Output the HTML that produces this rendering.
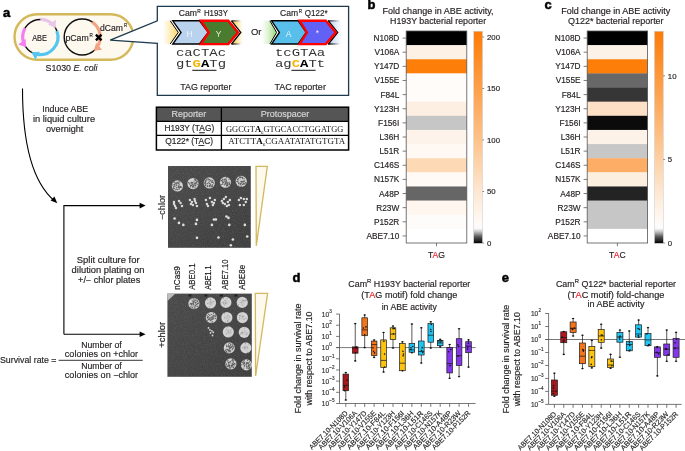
<!DOCTYPE html>
<html><head><meta charset="utf-8"><style>html,body{margin:0;padding:0;background:#fff;overflow:hidden}svg{display:block;will-change:transform}</style></head>
<body><svg width="685" height="451" viewBox="0 0 685 451" font-family="Liberation Sans, sans-serif">
<rect width="685" height="451" fill="#fff"/>
<text x="3.00" y="17.00" font-size="13" fill="#000" font-weight="bold" stroke="#000" stroke-width="0.5">a</text>
<rect x="14.5" y="14.2" width="118.8" height="45.5" rx="22.75" fill="#fdf9ef" stroke="#d3b95b" stroke-width="2.4"/>
<circle cx="40.3" cy="37.0" r="17.6" fill="none" stroke="#111" stroke-width="1.45"/>
<path d="M40.30,19.40 A17.6,17.6 0 0 1 52.53,24.34" fill="none" stroke="#e9c6ea" stroke-width="3.2"/>
<path d="M55.54,28.20 L48.06,24.44 L56.03,19.84 Z" fill="#e9c6ea"/>
<path d="M56.84,30.98 A17.6,17.6 0 0 1 36.64,54.22" fill="none" stroke="#56c5f0" stroke-width="3.2"/>
<path d="M31.50,52.24 L39.86,51.76 L35.26,59.73 Z" fill="#56c5f0"/>
<path d="M23.38,41.85 A17.6,17.6 0 0 1 25.06,28.20" fill="none" stroke="#f57ef2" stroke-width="3.2"/>
<path d="M26.06,47.35 L18.23,44.39 L25.67,38.98 Z" fill="#f57ef2"/>
<text x="39.60" y="40.70" font-size="8.7" fill="#231f20" stroke="#231f20" stroke-width="0.16" text-anchor="middle" textLength="14.80" lengthAdjust="spacingAndGlyphs" >ABE</text>
<circle cx="82.2" cy="37.0" r="18.0" fill="none" stroke="#111" stroke-width="1.45"/>
<path d="M92.27,22.08 A18.0,18.0 0 0 1 97.12,47.07" fill="none" stroke="#f2a585" stroke-width="3.2"/>
<path d="M93.77,50.79 L96.18,42.77 L102.09,49.81 Z" fill="#f2a585"/>
<text x="65.40" y="41.00" font-size="8.7" fill="#231f20" stroke="#231f20" stroke-width="0.16" textLength="23.30" lengthAdjust="spacingAndGlyphs" >pCam</text>
<text x="89.40" y="37.30" font-size="5.8" fill="#231f20" stroke="#231f20" stroke-width="0.16" textLength="3.30" lengthAdjust="spacingAndGlyphs" >R</text>
<text x="100.00" y="30.60" font-size="8.7" fill="#231f20" stroke="#231f20" stroke-width="0.16" textLength="22.90" lengthAdjust="spacingAndGlyphs" >dCam</text>
<text x="123.90" y="27.20" font-size="5.8" fill="#231f20" stroke="#231f20" stroke-width="0.16" textLength="3.10" lengthAdjust="spacingAndGlyphs" >R</text>
<path d="M95.9,34.7 L101.5,40.3 M101.5,34.7 L95.9,40.3" stroke="#000" stroke-width="2.4"/>
<text x="45.50" y="71.00" font-size="8.8" fill="#231f20" stroke="#231f20" stroke-width="0.16" textLength="52.00" lengthAdjust="spacingAndGlyphs" >S1030 <tspan font-style="italic">E. coli</tspan></text>
<path d="M157.3,20.9 L157.3,6.4 L348.6,6.4 L348.6,95.4 L157.3,95.4 L157.3,43.3 L110.2,40.2 Z" fill="#fff" stroke="#1d3a4e" stroke-width="1.3" stroke-linejoin="miter"/>
<path d="M22.5,88.4 C22.5,135 30,180 54.5,200.8" fill="none" stroke="#000" stroke-width="1.1"/>
<path d="M57.3,203.2 L50.6,200.6 L54.4,196.6 Z" fill="#000"/>
<path d="M63.9,334.2 L63.9,205.6 L141,205.6" fill="none" stroke="#000" stroke-width="1.1"/>
<path d="M145.6,205.6 L139.6,202.8 L139.6,208.4 Z" fill="#000"/>
<path d="M63.9,334.2 L141,334.2" fill="none" stroke="#000" stroke-width="1.1"/>
<path d="M145.6,334.2 L139.6,331.4 L139.6,337.0 Z" fill="#000"/>
<text x="42.30" y="111.90" font-size="8.4" fill="#231f20" stroke="#231f20" stroke-width="0.16" textLength="45.80" lengthAdjust="spacingAndGlyphs" >Induce ABE</text>
<text x="32.90" y="122.00" font-size="8.4" fill="#231f20" stroke="#231f20" stroke-width="0.16" textLength="62.20" lengthAdjust="spacingAndGlyphs" >in liquid culture</text>
<text x="46.00" y="131.50" font-size="8.4" fill="#231f20" stroke="#231f20" stroke-width="0.16" textLength="37.40" lengthAdjust="spacingAndGlyphs" >overnight</text>
<text x="76.80" y="262.70" font-size="8.4" fill="#231f20" stroke="#231f20" stroke-width="0.16" textLength="62.80" lengthAdjust="spacingAndGlyphs" >Split culture for</text>
<text x="71.60" y="273.00" font-size="8.4" fill="#231f20" stroke="#231f20" stroke-width="0.16" textLength="72.90" lengthAdjust="spacingAndGlyphs" >dilution plating on</text>
<text x="78.10" y="282.90" font-size="8.4" fill="#231f20" stroke="#231f20" stroke-width="0.16" textLength="62.10" lengthAdjust="spacingAndGlyphs" >+/− chlor plates</text>
<text x="0.00" y="362.70" font-size="8.7" fill="#231f20" stroke="#231f20" stroke-width="0.16" textLength="56.50" lengthAdjust="spacingAndGlyphs" >Survival rate =</text>
<path d="M58.6,360.3 L142.7,360.3" stroke="#000" stroke-width="0.8"/>
<text x="101.50" y="348.40" font-size="8.7" fill="#231f20" stroke="#231f20" stroke-width="0.16" text-anchor="middle" >Number of</text>
<text x="101.50" y="356.60" font-size="8.7" fill="#231f20" stroke="#231f20" stroke-width="0.16" text-anchor="middle" textLength="73.30" lengthAdjust="spacingAndGlyphs" >colonies on +chlor</text>
<text x="101.50" y="369.20" font-size="8.7" fill="#231f20" stroke="#231f20" stroke-width="0.16" text-anchor="middle" >Number of</text>
<text x="101.50" y="378.00" font-size="8.7" fill="#231f20" stroke="#231f20" stroke-width="0.16" text-anchor="middle" textLength="73.30" lengthAdjust="spacingAndGlyphs" >colonies on −chlor</text>
<defs>
<linearGradient id="gl" x1="0" x2="1" y1="0" y2="0"><stop offset="0" stop-color="#ffd35a" stop-opacity="0"/><stop offset="0.35" stop-color="#ffd96e" stop-opacity="0.35"/><stop offset="1" stop-color="#ffd35f"/></linearGradient>
<linearGradient id="gr" x1="0" x2="1" y1="0" y2="0"><stop offset="0" stop-color="#f0c040"/><stop offset="1" stop-color="#ffd35a" stop-opacity="0"/></linearGradient>
<linearGradient id="ggl" x1="0" x2="1" y1="0" y2="0"><stop offset="0" stop-color="#9ad27a" stop-opacity="0"/><stop offset="0.35" stop-color="#a6dc8a" stop-opacity="0.3"/><stop offset="1" stop-color="#96d877"/></linearGradient>
<linearGradient id="gbr" x1="0" x2="1" y1="0" y2="0"><stop offset="0" stop-color="#b6d0ef"/><stop offset="1" stop-color="#c6daf2" stop-opacity="0"/></linearGradient>
<linearGradient id="gbk" x1="0" x2="1" y1="0" y2="0"><stop offset="0" stop-color="#000"/><stop offset="1" stop-color="#000" stop-opacity="0"/></linearGradient>
</defs>
<path d="M163,20.8 L170.2,20.8 L178.3,32.4 L170.2,44.0 L163,44.0 Z" fill="url(#gl)"/>
<path d="M170.2,20.8 L178.3,32.4 L170.2,44.0" fill="none" stroke="#000" stroke-width="1.0"/>
<path d="M231.5,20.8 L243,20.8 L243,44.0 L231.5,44.0 L240.8,32.4 Z" fill="url(#gr)"/>
<path d="M231.5,20.8 L241,20.8 M231.5,44.0 L241,44.0" stroke="url(#gbk)" stroke-width="1.3"/>
<path d="M231.5,20.8 L240.8,32.4 L231.5,44.0" fill="none" stroke="#000" stroke-width="1.3"/>
<path d="M172.80,20.80 L199.60,20.80 L208.20,32.40 L199.60,44.00 L172.80,44.00 L181.00,32.40 Z" fill="#b9d2ed" stroke="#000" stroke-width="1.4" stroke-linejoin="miter"/>
<path d="M201.00,20.70 L228.30,20.70 L238.00,32.40 L228.30,44.10 L201.00,44.10 L208.80,32.40 Z" fill="#4a7c2f" stroke="#f00" stroke-width="2.4" stroke-linejoin="miter"/>
<text x="189.60" y="37.20" font-size="8.5" fill="#eef4fb" text-anchor="middle" >H</text>
<text x="218.60" y="37.20" font-size="8.5" fill="#e6ecd8" text-anchor="middle" >Y</text>
<path d="M262,20.8 L269.9,20.8 L276.6,32.4 L269.9,44.0 L262,44.0 Z" fill="url(#ggl)"/>
<path d="M269.9,20.8 L276.6,32.4 L269.9,44.0" fill="none" stroke="#000" stroke-width="1.0"/>
<path d="M328.4,20.8 L342,20.8 L342,44.0 L328.4,44.0 L337.7,32.4 Z" fill="url(#gbr)"/>
<path d="M328,20.8 L340,20.8 M328,44.0 L340,44.0" stroke="url(#gbk)" stroke-width="1.3"/>
<path d="M328.4,20.8 L337.7,32.4 L328.4,44.0" fill="none" stroke="#000" stroke-width="1.3"/>
<path d="M271.60,20.80 L298.30,20.80 L306.20,32.40 L298.30,44.00 L271.60,44.00 L279.40,32.40 Z" fill="#58bfeb" stroke="#000" stroke-width="1.4" stroke-linejoin="miter"/>
<path d="M299.60,20.70 L325.80,20.70 L335.80,32.40 L325.80,44.10 L299.60,44.10 L306.80,32.40 Z" fill="#6161f5" stroke="#f00" stroke-width="2.4" stroke-linejoin="miter"/>
<text x="288.50" y="37.20" font-size="8.5" fill="#e0f2fb" text-anchor="middle" >A</text>
<text x="317.50" y="35.60" font-size="8.5" fill="#e8e8ff" text-anchor="middle" >*</text>
<text x="178.70" y="16.20" font-size="8.4" fill="#231f20" stroke="#231f20" stroke-width="0.16" textLength="18.20" lengthAdjust="spacingAndGlyphs" >Cam</text>
<text x="197.30" y="12.70" font-size="5.8" fill="#231f20" stroke="#231f20" stroke-width="0.16" textLength="3.50" lengthAdjust="spacingAndGlyphs" >R</text>
<text x="203.90" y="16.20" font-size="8.4" fill="#231f20" stroke="#231f20" stroke-width="0.16" textLength="24.10" lengthAdjust="spacingAndGlyphs" >H193Y</text>
<text x="280.10" y="16.20" font-size="8.4" fill="#231f20" stroke="#231f20" stroke-width="0.16" textLength="18.10" lengthAdjust="spacingAndGlyphs" >Cam</text>
<text x="298.80" y="12.70" font-size="5.8" fill="#231f20" stroke="#231f20" stroke-width="0.16" textLength="3.30" lengthAdjust="spacingAndGlyphs" >R</text>
<text x="304.80" y="16.20" font-size="8.4" fill="#231f20" stroke="#231f20" stroke-width="0.16" textLength="22.70" lengthAdjust="spacingAndGlyphs" >Q122*</text>
<text x="251.00" y="35.20" font-size="8.5" fill="#231f20" stroke="#231f20" stroke-width="0.16" textLength="10.50" lengthAdjust="spacingAndGlyphs" >Or</text>
<text x="175.9" y="56.2" font-family="Liberation Mono" font-size="10.4" fill="#333" textLength="50.2" lengthAdjust="spacingAndGlyphs">caCTAc</text>
<text x="175.9" y="66.7" font-family="Liberation Mono" font-size="10.4" fill="#333" textLength="50.2" lengthAdjust="spacingAndGlyphs">gt<tspan fill="#f5b400" font-weight="bold">G</tspan><tspan font-weight="bold" fill="#000">A</tspan>Tg</text>
<path d="M192.3,70.3 L216.5,70.3" stroke="#111" stroke-width="1"/>
<text x="275.0" y="56.2" font-family="Liberation Mono" font-size="10.4" fill="#333" textLength="50.2" lengthAdjust="spacingAndGlyphs">tcGTAa</text>
<text x="275.0" y="66.7" font-family="Liberation Mono" font-size="10.4" fill="#333" textLength="50.2" lengthAdjust="spacingAndGlyphs">ag<tspan fill="#f5b400" font-weight="bold">C</tspan><tspan font-weight="bold" fill="#000">A</tspan>Tt</text>
<path d="M291.4,70.3 L315.6,70.3" stroke="#111" stroke-width="1"/>
<text x="180.20" y="90.00" font-size="8.5" fill="#231f20" stroke="#231f20" stroke-width="0.16" textLength="51.30" lengthAdjust="spacingAndGlyphs" >TAG reporter</text>
<text x="274.40" y="90.00" font-size="8.5" fill="#231f20" stroke="#231f20" stroke-width="0.16" textLength="51.50" lengthAdjust="spacingAndGlyphs" >TAC reporter</text>
<rect x="156.4" y="107.2" width="192.2" height="14.1" fill="#555"/>
<rect x="156.4" y="107.2" width="192.2" height="42.8" fill="none" stroke="#000" stroke-width="1.5"/>
<path d="M156.4,121.3 L348.6,121.3 M156.4,135.4 L348.6,135.4 M221.4,107.2 L221.4,150" stroke="#000" stroke-width="1.3"/>
<text x="188.90" y="117.40" font-size="8.6" fill="#d8d8d8" stroke="#d8d8d8" stroke-width="0.16" text-anchor="middle" textLength="34.80" lengthAdjust="spacingAndGlyphs" >Reporter</text>
<text x="285.00" y="117.40" font-size="8.6" fill="#d8d8d8" stroke="#d8d8d8" stroke-width="0.16" text-anchor="middle" textLength="48.40" lengthAdjust="spacingAndGlyphs" >Protospacer</text>
<text x="164.40" y="131.30" font-size="8.4" fill="#231f20" stroke="#231f20" stroke-width="0.16" textLength="49.80" lengthAdjust="spacingAndGlyphs" >H193Y (T<tspan text-decoration="underline">A</tspan>G)</text>
<text x="165.20" y="144.10" font-size="8.4" fill="#231f20" stroke="#231f20" stroke-width="0.16" textLength="47.90" lengthAdjust="spacingAndGlyphs" >Q122* (T<tspan text-decoration="underline">A</tspan>C)</text>
<text x="226" y="131.6" font-family="Liberation Serif" font-size="8.6" fill="#222" textLength="117.3" lengthAdjust="spacingAndGlyphs">GGCGT<tspan font-weight="bold" fill="#000">A</tspan><tspan font-size="5" dy="2">6</tspan><tspan dy="-2">GTGCACCTGGATGG</tspan></text>
<text x="228.3" y="144.4" font-family="Liberation Serif" font-size="8.6" fill="#222" textLength="116.9" lengthAdjust="spacingAndGlyphs">ATCTT<tspan font-weight="bold" fill="#000">A</tspan><tspan font-size="5" dy="2">6</tspan><tspan dy="-2">CGAATATATGTGTA</tspan></text>
<defs>
<filter id="nz" x="0" y="0" width="100%" height="100%"><feTurbulence type="fractalNoise" baseFrequency="0.9" numOctaves="2" seed="4"/><feColorMatrix type="matrix" values="0 0 0 0 1  0 0 0 0 1  0 0 0 0 1  1.6 0 0 0 -0.7"/></filter>
<filter id="spkL" x="-20%" y="-20%" width="140%" height="140%"><feTurbulence type="fractalNoise" baseFrequency="1.0" numOctaves="1" seed="9"/><feColorMatrix type="matrix" values="0 0 0 0 0.3  0 0 0 0 0.3  0 0 0 0 0.3  3 0 0 0 -1.75"/><feComposite in2="SourceGraphic" operator="in"/></filter>
<filter id="spkH" x="-20%" y="-20%" width="140%" height="140%"><feTurbulence type="fractalNoise" baseFrequency="1.0" numOctaves="1" seed="5"/><feColorMatrix type="matrix" values="0 0 0 0 0.3  0 0 0 0 0.3  0 0 0 0 0.3  3 0 0 0 -1.3"/><feComposite in2="SourceGraphic" operator="in"/></filter>
<filter id="bl" x="-5%" y="-5%" width="110%" height="110%"><feGaussianBlur stdDeviation="0.35"/></filter>
<linearGradient id="pg" x1="0" y1="0" x2="1" y2="1"><stop offset="0" stop-color="#4b4b4b"/><stop offset="1" stop-color="#3f3f3f"/></linearGradient>
<radialGradient id="col" cx="0.5" cy="0.5" r="0.5"><stop offset="0" stop-color="#c2c2c2"/><stop offset="0.8" stop-color="#d6d6d6"/><stop offset="1" stop-color="#c6c6c6"/></radialGradient>
</defs>
<g filter="url(#bl)">
<rect x="168.0" y="166.0" width="82.80" height="81.80" fill="url(#pg)"/>
<rect x="168.0" y="166.0" width="82.80" height="81.80" fill="#fff" filter="url(#nz)" opacity="0.13"/>
<circle cx="177.38" cy="185.95" r="5.6" fill="url(#col)"/>
<path d="M176.54,187.62h0.01M176.62,184.90h0.01M174.55,185.31h0.01M180.57,187.17h0.01M180.45,186.69h0.01M178.68,186.57h0.01M173.49,187.95h0.01M178.99,187.55h0.01M174.12,182.60h0.01M174.70,184.55h0.01M178.40,185.80h0.01M179.00,183.95h0.01M178.39,187.25h0.01M175.82,190.00h0.01M178.92,189.27h0.01M175.49,183.71h0.01M176.23,185.60h0.01M179.40,186.75h0.01M176.05,183.11h0.01M175.93,189.33h0.01M174.86,186.72h0.01M178.48,182.10h0.01M177.51,189.59h0.01M172.94,185.25h0.01M177.04,183.40h0.01M179.01,185.75h0.01M173.74,188.01h0.01M179.31,188.69h0.01M181.18,186.91h0.01M177.71,182.34h0.01M179.28,184.06h0.01M176.13,182.47h0.01M174.53,184.39h0.01M179.87,182.01h0.01M173.52,186.59h0.01M181.11,187.45h0.01M174.49,182.14h0.01M178.49,183.65h0.01M174.42,188.54h0.01M180.60,186.41h0.01M178.18,187.38h0.01M181.30,187.48h0.01M179.02,187.69h0.01M173.91,188.79h0.01M180.19,187.51h0.01M173.08,184.58h0.01M179.26,181.91h0.01M176.83,189.00h0.01" stroke="#555" stroke-width="1.2" stroke-linecap="round" opacity="0.9"/>
<circle cx="192.94" cy="183.56" r="5.6" fill="url(#col)"/>
<path d="M190.09,187.06h0.01M194.74,183.07h0.01M193.98,185.63h0.01M193.29,186.88h0.01M190.86,182.25h0.01M196.05,183.64h0.01M190.48,186.20h0.01M196.76,182.40h0.01M189.19,183.19h0.01M192.45,182.56h0.01M196.37,181.06h0.01M195.97,180.52h0.01M190.58,185.46h0.01M195.99,185.87h0.01M194.10,184.03h0.01M193.44,185.43h0.01M192.35,184.49h0.01M194.81,183.56h0.01M195.27,185.28h0.01M197.37,184.27h0.01M191.55,182.34h0.01M192.90,186.39h0.01M191.84,184.83h0.01M195.73,179.67h0.01M189.68,184.27h0.01M194.26,184.35h0.01M191.59,185.62h0.01M193.86,181.86h0.01M197.58,184.24h0.01M191.14,183.23h0.01M192.18,183.35h0.01M188.27,182.73h0.01M195.56,180.53h0.01M192.74,186.46h0.01M195.04,187.22h0.01M188.80,182.70h0.01M191.86,185.55h0.01M194.74,179.15h0.01M195.53,180.11h0.01M194.66,179.80h0.01M193.45,186.98h0.01M192.44,184.20h0.01M195.44,184.00h0.01M192.71,187.55h0.01M196.03,182.69h0.01M197.35,181.72h0.01M195.73,182.75h0.01M193.37,185.81h0.01" stroke="#555" stroke-width="1.2" stroke-linecap="round" opacity="0.9"/>
<circle cx="209.31" cy="182.96" r="5.6" fill="url(#col)"/>
<path d="M210.02,185.01h0.01M206.07,179.76h0.01M211.10,180.16h0.01M206.85,179.44h0.01M212.67,184.94h0.01M212.89,180.68h0.01M209.31,179.64h0.01M211.16,186.80h0.01M207.18,186.69h0.01M212.28,182.42h0.01M205.51,185.67h0.01M209.00,181.01h0.01M210.61,184.30h0.01M212.87,180.53h0.01M211.96,186.43h0.01M213.17,182.48h0.01M207.21,185.83h0.01M209.70,183.38h0.01M213.12,182.26h0.01M204.74,182.19h0.01M205.21,184.77h0.01M210.33,181.00h0.01M209.28,185.56h0.01M209.53,186.63h0.01M209.13,186.06h0.01M212.42,186.32h0.01M207.34,185.54h0.01M205.36,180.68h0.01M205.27,185.16h0.01M205.81,182.92h0.01M208.66,182.86h0.01M207.40,183.71h0.01M213.60,183.07h0.01M210.86,185.88h0.01M208.76,179.42h0.01M207.72,186.03h0.01M205.32,181.51h0.01M212.13,185.18h0.01M209.34,185.49h0.01M209.79,179.57h0.01M205.44,181.38h0.01M212.04,181.29h0.01M206.72,180.74h0.01M205.33,182.66h0.01M205.96,183.99h0.01M204.70,183.60h0.01M207.90,178.69h0.01M211.60,182.09h0.01" stroke="#555" stroke-width="1.2" stroke-linecap="round" opacity="0.9"/>
<circle cx="225.48" cy="182.36" r="5.6" fill="url(#col)"/>
<path d="M221.14,180.66h0.01M226.43,180.86h0.01M227.78,184.57h0.01M227.59,183.40h0.01M229.00,184.10h0.01M226.44,177.92h0.01M227.77,185.71h0.01M224.51,180.83h0.01M228.98,179.19h0.01M226.37,186.96h0.01M222.79,184.36h0.01M229.85,182.08h0.01M227.14,185.04h0.01M222.70,182.09h0.01M226.38,184.91h0.01M225.36,181.70h0.01M222.48,181.30h0.01M228.22,182.67h0.01M223.03,179.95h0.01M229.86,184.23h0.01M226.61,177.77h0.01M227.44,183.87h0.01M229.59,183.40h0.01M225.26,184.07h0.01M221.43,184.51h0.01M226.50,180.15h0.01M228.20,186.07h0.01M221.85,180.64h0.01M226.45,182.97h0.01M224.29,179.46h0.01M229.66,184.40h0.01M222.63,179.15h0.01M229.32,184.59h0.01M229.55,184.17h0.01M222.80,183.16h0.01M221.11,180.85h0.01M225.29,184.08h0.01M223.17,181.97h0.01M226.97,183.59h0.01M227.53,183.03h0.01M224.47,184.81h0.01M225.63,179.78h0.01M223.45,182.36h0.01M225.11,182.89h0.01M225.48,182.96h0.01M225.10,178.82h0.01M226.71,185.43h0.01M226.91,181.74h0.01" stroke="#555" stroke-width="1.2" stroke-linecap="round" opacity="0.9"/>
<circle cx="241.25" cy="181.36" r="5.6" fill="url(#col)"/>
<path d="M242.57,178.50h0.01M236.86,181.50h0.01M238.57,183.49h0.01M239.43,176.97h0.01M238.84,185.02h0.01M240.22,177.68h0.01M238.91,182.96h0.01M242.88,181.94h0.01M244.98,183.14h0.01M241.18,183.30h0.01M245.04,183.59h0.01M243.95,178.51h0.01M240.78,183.68h0.01M240.38,184.50h0.01M243.01,184.04h0.01M240.86,186.05h0.01M244.75,180.75h0.01M241.41,186.08h0.01M240.20,184.03h0.01M244.21,181.38h0.01M237.89,181.90h0.01M242.28,184.61h0.01M243.71,181.44h0.01M243.81,182.98h0.01M241.94,181.55h0.01M240.47,183.55h0.01M238.25,179.58h0.01M241.26,177.47h0.01M240.29,176.97h0.01M239.14,183.12h0.01M243.09,181.19h0.01M240.62,177.56h0.01M245.47,182.56h0.01M244.21,178.98h0.01M240.81,177.06h0.01M243.47,184.03h0.01M236.86,181.24h0.01M242.72,177.25h0.01M237.33,179.08h0.01M239.61,177.72h0.01M241.35,182.20h0.01M243.18,183.50h0.01M244.72,184.05h0.01M237.70,180.00h0.01M238.47,178.54h0.01M240.97,181.38h0.01M242.47,177.40h0.01M237.74,181.30h0.01" stroke="#555" stroke-width="1.2" stroke-linecap="round" opacity="0.9"/>
<circle cx="173.98" cy="201.92" r="1.25" fill="#d8d8d8"/>
<circle cx="178.97" cy="200.92" r="1.25" fill="#d8d8d8"/>
<circle cx="180.57" cy="202.92" r="1.25" fill="#d8d8d8"/>
<circle cx="174.98" cy="205.91" r="1.25" fill="#d8d8d8"/>
<circle cx="175.98" cy="207.91" r="1.25" fill="#d8d8d8"/>
<circle cx="181.97" cy="205.91" r="1.25" fill="#d8d8d8"/>
<circle cx="173.98" cy="203.92" r="1.25" fill="#d8d8d8"/>
<circle cx="189.95" cy="199.93" r="1.25" fill="#d8d8d8"/>
<circle cx="191.95" cy="201.92" r="1.25" fill="#d8d8d8"/>
<circle cx="194.54" cy="198.93" r="1.25" fill="#d8d8d8"/>
<circle cx="195.94" cy="202.92" r="1.25" fill="#d8d8d8"/>
<circle cx="196.94" cy="205.91" r="1.25" fill="#d8d8d8"/>
<circle cx="192.94" cy="204.92" r="1.25" fill="#d8d8d8"/>
<circle cx="190.95" cy="203.92" r="1.25" fill="#d8d8d8"/>
<circle cx="194.94" cy="200.92" r="1.25" fill="#d8d8d8"/>
<circle cx="205.92" cy="199.93" r="1.25" fill="#d8d8d8"/>
<circle cx="206.92" cy="203.92" r="1.25" fill="#d8d8d8"/>
<circle cx="209.91" cy="197.93" r="1.25" fill="#d8d8d8"/>
<circle cx="211.91" cy="201.92" r="1.25" fill="#d8d8d8"/>
<circle cx="212.90" cy="204.92" r="1.25" fill="#d8d8d8"/>
<circle cx="214.90" cy="199.93" r="1.25" fill="#d8d8d8"/>
<circle cx="207.91" cy="205.91" r="1.25" fill="#d8d8d8"/>
<circle cx="213.90" cy="202.92" r="1.25" fill="#d8d8d8"/>
<circle cx="221.89" cy="200.92" r="1.25" fill="#d8d8d8"/>
<circle cx="223.88" cy="198.93" r="1.25" fill="#d8d8d8"/>
<circle cx="225.88" cy="196.93" r="1.25" fill="#d8d8d8"/>
<circle cx="227.87" cy="201.92" r="1.25" fill="#d8d8d8"/>
<circle cx="229.87" cy="199.93" r="1.25" fill="#d8d8d8"/>
<circle cx="228.87" cy="204.92" r="1.25" fill="#d8d8d8"/>
<circle cx="224.88" cy="203.92" r="1.25" fill="#d8d8d8"/>
<circle cx="222.88" cy="202.92" r="1.25" fill="#d8d8d8"/>
<circle cx="226.88" cy="205.91" r="1.25" fill="#d8d8d8"/>
<circle cx="238.85" cy="199.93" r="1.25" fill="#d8d8d8"/>
<circle cx="240.85" cy="197.93" r="1.25" fill="#d8d8d8"/>
<circle cx="243.84" cy="198.93" r="1.25" fill="#d8d8d8"/>
<circle cx="245.84" cy="201.92" r="1.25" fill="#d8d8d8"/>
<circle cx="239.85" cy="204.92" r="1.25" fill="#d8d8d8"/>
<circle cx="243.84" cy="204.92" r="1.25" fill="#d8d8d8"/>
<circle cx="246.84" cy="198.93" r="1.25" fill="#d8d8d8"/>
<circle cx="174.58" cy="218.49" r="1.3" fill="#e0e0e0"/>
<circle cx="178.97" cy="222.88" r="1.3" fill="#e0e0e0"/>
<circle cx="183.36" cy="224.88" r="1.3" fill="#e0e0e0"/>
<circle cx="196.94" cy="219.89" r="1.3" fill="#e0e0e0"/>
<circle cx="195.94" cy="223.88" r="1.3" fill="#e0e0e0"/>
<circle cx="213.90" cy="219.49" r="1.3" fill="#e0e0e0"/>
<circle cx="215.90" cy="219.49" r="1.3" fill="#e0e0e0"/>
<circle cx="211.91" cy="224.88" r="1.3" fill="#e0e0e0"/>
<circle cx="226.48" cy="216.49" r="1.3" fill="#e0e0e0"/>
<circle cx="228.47" cy="217.89" r="1.3" fill="#e0e0e0"/>
<circle cx="229.27" cy="224.88" r="1.3" fill="#e0e0e0"/>
<circle cx="244.84" cy="224.88" r="1.3" fill="#e0e0e0"/>
<circle cx="196.94" cy="237.85" r="1.3" fill="#e0e0e0"/>
<circle cx="218.49" cy="237.45" r="1.3" fill="#e0e0e0"/>
<circle cx="232.86" cy="239.45" r="1.3" fill="#e0e0e0"/>
<circle cx="230.87" cy="245.24" r="1.3" fill="#e0e0e0"/>
<circle cx="247.24" cy="236.45" r="1.3" fill="#e0e0e0"/>
</g>
<path d="M256.0,166.4 L267.3,166.4 L256.3,245.8 Z" fill="#fdf9ef" stroke="#d3b95b" stroke-width="1.3" stroke-linejoin="miter"/>
<text x="164.60" y="207.50" font-size="8.6" fill="#231f20" stroke="#231f20" stroke-width="0.1" text-anchor="middle" textLength="25.00" lengthAdjust="spacingAndGlyphs" transform="rotate(-90 164.60 207.50)" >−chlor</text>
<g filter="url(#bl)">
<rect x="167.4" y="293.6" width="84.40" height="83.20" fill="url(#pg)"/>
<rect x="167.4" y="293.6" width="84.40" height="83.20" fill="#fff" filter="url(#nz)" opacity="0.13"/>
<path d="M167.4,293.6 L175.5,293.6 L167.4,301 Z" fill="#bdbdbd"/>
<circle cx="193.94" cy="303.57" r="5.6" fill="url(#col)"/>
<path d="M193.28,302.53h0.01M193.74,301.17h0.01M196.15,304.69h0.01M193.66,301.42h0.01M193.64,298.84h0.01M190.98,303.69h0.01M190.01,304.10h0.01M194.34,299.82h0.01M193.11,302.53h0.01M195.40,305.51h0.01M193.83,300.93h0.01M193.45,303.35h0.01M196.25,304.50h0.01M192.06,300.05h0.01M192.78,301.26h0.01M190.69,303.23h0.01M192.33,303.92h0.01M195.62,302.25h0.01M198.54,302.94h0.01M197.17,303.93h0.01M195.95,299.30h0.01M191.58,304.35h0.01M195.11,308.09h0.01M194.84,307.12h0.01M196.13,306.27h0.01M195.61,303.06h0.01M195.40,300.48h0.01M196.99,300.95h0.01M194.47,308.09h0.01M193.19,303.64h0.01M197.31,303.65h0.01M191.43,304.38h0.01M195.73,305.75h0.01M192.17,307.60h0.01M198.10,303.62h0.01M194.83,302.16h0.01M197.57,301.76h0.01M196.05,302.07h0.01M191.85,305.74h0.01M197.63,303.54h0.01M191.93,305.98h0.01M193.78,304.61h0.01M197.46,306.19h0.01M192.91,308.10h0.01M193.95,306.05h0.01M191.86,303.43h0.01M190.66,306.93h0.01M197.17,300.70h0.01" stroke="#555" stroke-width="1.2" stroke-linecap="round" opacity="0.9"/>
<circle cx="210.51" cy="302.97" r="5.6" fill="url(#col)"/>
<path d="M207.39,299.61h0.01M213.82,301.68h0.01M210.31,301.93h0.01M210.15,299.77h0.01M210.57,299.12h0.01M210.27,304.01h0.01M212.04,302.21h0.01M207.74,303.46h0.01M209.29,306.92h0.01" stroke="#6a6a6a" stroke-width="1.0" stroke-linecap="round" opacity="0.6"/>
<circle cx="211.31" cy="317.54" r="5.6" fill="url(#col)"/>
<path d="M213.73,317.18h0.01M209.84,315.36h0.01M208.49,316.48h0.01M212.27,319.22h0.01M212.50,321.95h0.01M209.06,317.59h0.01M215.29,314.88h0.01M209.60,318.10h0.01M211.82,318.90h0.01M210.52,318.76h0.01M211.47,319.98h0.01M207.21,315.63h0.01M211.30,314.46h0.01M208.33,319.34h0.01M209.31,319.50h0.01M213.65,318.51h0.01M212.98,317.20h0.01M207.50,317.46h0.01M212.76,315.85h0.01M210.99,319.92h0.01M208.72,319.43h0.01M215.55,316.28h0.01M211.80,317.04h0.01M215.27,318.36h0.01M213.93,315.53h0.01M211.25,317.51h0.01M207.72,320.46h0.01M213.34,313.60h0.01M213.66,317.13h0.01M212.77,318.74h0.01M207.38,316.99h0.01M215.11,316.08h0.01M208.78,314.19h0.01M207.87,318.49h0.01M215.42,318.59h0.01M211.81,322.12h0.01M209.69,315.45h0.01M212.98,319.28h0.01M208.68,314.51h0.01M212.28,318.37h0.01M207.69,316.98h0.01M209.58,319.01h0.01M210.91,317.25h0.01M210.27,320.63h0.01M215.03,316.56h0.01M213.77,315.34h0.01M211.54,319.92h0.01M215.21,316.56h0.01" stroke="#555" stroke-width="1.2" stroke-linecap="round" opacity="0.9"/>
<circle cx="225.88" cy="302.38" r="5.6" fill="url(#col)"/>
<path d="M225.63,303.04h0.01M221.94,302.42h0.01M223.74,303.55h0.01M223.59,298.37h0.01M226.01,303.25h0.01M224.24,305.02h0.01M225.00,300.43h0.01M227.08,298.43h0.01M223.70,302.31h0.01" stroke="#6a6a6a" stroke-width="1.0" stroke-linecap="round" opacity="0.6"/>
<circle cx="226.88" cy="317.54" r="5.6" fill="url(#col)"/>
<path d="M229.51,317.04h0.01M227.86,315.46h0.01M227.62,321.66h0.01M225.57,322.04h0.01M224.80,317.60h0.01M227.39,320.60h0.01M224.50,313.52h0.01M228.70,319.94h0.01M227.97,322.15h0.01" stroke="#6a6a6a" stroke-width="1.0" stroke-linecap="round" opacity="0.6"/>
<circle cx="228.27" cy="331.92" r="5.6" fill="url(#col)"/>
<path d="M228.96,332.77h0.01M231.07,333.03h0.01M231.89,329.22h0.01M227.75,327.15h0.01M230.78,330.77h0.01M230.10,336.18h0.01M228.25,331.06h0.01M226.76,329.38h0.01M226.33,333.88h0.01" stroke="#6a6a6a" stroke-width="1.0" stroke-linecap="round" opacity="0.6"/>
<circle cx="229.27" cy="347.88" r="5.6" fill="url(#col)"/>
<path d="M229.40,348.11h0.01M228.74,350.68h0.01M230.89,347.42h0.01M231.40,347.40h0.01M226.57,351.29h0.01M230.65,345.05h0.01M232.42,348.89h0.01M226.06,351.19h0.01M230.29,350.60h0.01M229.94,347.38h0.01M225.61,350.18h0.01M229.37,346.92h0.01M230.44,348.15h0.01M231.40,346.71h0.01M229.19,343.33h0.01M227.94,350.01h0.01M232.91,346.89h0.01M228.96,351.94h0.01M228.25,350.19h0.01M233.44,347.98h0.01M232.58,345.97h0.01M229.97,347.62h0.01M229.61,351.18h0.01M233.79,346.63h0.01M227.45,349.46h0.01M226.22,349.32h0.01M231.12,346.99h0.01M230.61,343.98h0.01M231.13,344.10h0.01M227.12,346.17h0.01M228.05,350.50h0.01M229.54,346.56h0.01M230.63,351.82h0.01M229.29,349.11h0.01M232.76,348.64h0.01M227.09,352.11h0.01M232.82,344.69h0.01M229.14,349.27h0.01M232.06,349.81h0.01M228.47,344.78h0.01M229.58,350.97h0.01M226.40,345.18h0.01M229.21,343.47h0.01M228.42,346.45h0.01M230.68,345.70h0.01M226.59,346.69h0.01M229.11,345.75h0.01M229.31,350.26h0.01" stroke="#555" stroke-width="1.2" stroke-linecap="round" opacity="0.9"/>
<circle cx="230.87" cy="363.85" r="5.6" fill="url(#col)"/>
<path d="M233.44,367.56h0.01M228.45,362.56h0.01M227.07,366.76h0.01M228.56,363.75h0.01M232.26,360.23h0.01M232.40,363.76h0.01M226.58,364.54h0.01M233.34,359.99h0.01M233.39,364.50h0.01M232.40,365.28h0.01M234.48,363.23h0.01M233.52,362.61h0.01M233.01,361.45h0.01M230.60,368.08h0.01M232.34,363.33h0.01M227.76,361.71h0.01M231.46,366.71h0.01M232.24,365.53h0.01M230.75,367.57h0.01M229.61,362.09h0.01M233.61,364.05h0.01M229.97,361.99h0.01M230.04,365.85h0.01M231.87,360.44h0.01M232.28,364.44h0.01M228.05,366.03h0.01M229.94,362.74h0.01M232.93,367.28h0.01M228.71,365.22h0.01M229.21,368.24h0.01M229.49,367.19h0.01M228.94,366.27h0.01M234.02,360.24h0.01M229.47,365.46h0.01M230.57,361.71h0.01M235.42,364.02h0.01M227.01,365.86h0.01M227.12,366.36h0.01M228.99,364.32h0.01M234.42,364.18h0.01M227.96,360.31h0.01M234.08,365.86h0.01M228.52,366.33h0.01M232.42,365.88h0.01M226.29,363.24h0.01M233.47,365.98h0.01M232.46,359.41h0.01M231.42,365.47h0.01" stroke="#555" stroke-width="1.2" stroke-linecap="round" opacity="0.9"/>
<circle cx="242.25" cy="302.38" r="5.6" fill="url(#col)"/>
<path d="M246.69,300.71h0.01M241.14,302.50h0.01M244.92,301.04h0.01M245.36,300.23h0.01M243.11,300.66h0.01M242.75,300.17h0.01M238.60,304.87h0.01M243.23,300.57h0.01M242.85,305.35h0.01" stroke="#6a6a6a" stroke-width="1.0" stroke-linecap="round" opacity="0.6"/>
<circle cx="242.45" cy="317.54" r="5.6" fill="url(#col)"/>
<path d="M239.49,317.21h0.01M244.15,319.21h0.01M241.73,313.05h0.01M245.93,318.46h0.01M242.49,316.61h0.01M243.31,316.14h0.01M239.56,315.46h0.01M240.59,315.64h0.01M239.23,319.31h0.01" stroke="#6a6a6a" stroke-width="1.0" stroke-linecap="round" opacity="0.6"/>
<circle cx="244.24" cy="332.32" r="5.6" fill="url(#col)"/>
<path d="M240.76,334.07h0.01M241.24,333.36h0.01M247.98,332.87h0.01M241.92,332.47h0.01M244.60,328.09h0.01M242.28,332.84h0.01M242.69,332.58h0.01M246.42,334.59h0.01M246.92,334.05h0.01" stroke="#6a6a6a" stroke-width="1.0" stroke-linecap="round" opacity="0.6"/>
<circle cx="245.84" cy="347.88" r="5.6" fill="url(#col)"/>
<path d="M244.87,347.82h0.01M244.94,346.84h0.01M245.40,343.67h0.01M244.72,347.80h0.01M242.89,347.81h0.01M247.53,347.35h0.01M248.82,344.14h0.01M245.35,343.58h0.01M247.49,352.35h0.01" stroke="#6a6a6a" stroke-width="1.0" stroke-linecap="round" opacity="0.6"/>
<circle cx="246.44" cy="364.85" r="5.6" fill="url(#col)"/>
<path d="M241.75,365.09h0.01M248.12,363.87h0.01M247.54,360.35h0.01M249.04,365.99h0.01M246.51,362.94h0.01M248.44,363.33h0.01M247.17,363.18h0.01M241.83,364.79h0.01M247.07,367.23h0.01M243.73,364.75h0.01M248.43,365.32h0.01M248.90,368.79h0.01M244.49,360.74h0.01M248.52,368.56h0.01M249.06,367.16h0.01M244.55,362.68h0.01M248.93,362.29h0.01M242.49,362.68h0.01M250.22,367.77h0.01M244.37,362.66h0.01M247.17,362.49h0.01M250.08,364.63h0.01M243.76,368.08h0.01M244.55,365.57h0.01M246.39,363.80h0.01M247.46,362.66h0.01M243.38,361.20h0.01M243.08,362.84h0.01M246.36,365.04h0.01M248.25,365.24h0.01M244.08,362.75h0.01M241.91,364.49h0.01M247.98,366.54h0.01M246.03,364.26h0.01M249.30,364.90h0.01M248.69,366.63h0.01M247.03,368.47h0.01M244.60,363.70h0.01M244.08,362.53h0.01M249.51,368.33h0.01M246.51,366.70h0.01M249.60,367.02h0.01M249.37,361.78h0.01M244.42,366.28h0.01M250.28,365.13h0.01M243.81,363.77h0.01M244.49,362.32h0.01M250.23,363.27h0.01" stroke="#555" stroke-width="1.2" stroke-linecap="round" opacity="0.9"/>
<circle cx="208.51" cy="327.92" r="0.9" fill="#d8d8d8"/>
<circle cx="209.91" cy="329.92" r="0.9" fill="#d8d8d8"/>
<circle cx="211.91" cy="330.92" r="0.9" fill="#d8d8d8"/>
<circle cx="213.30" cy="332.32" r="0.9" fill="#d8d8d8"/>
<circle cx="212.50" cy="335.51" r="0.9" fill="#d8d8d8"/>
<circle cx="210.51" cy="332.91" r="0.9" fill="#d8d8d8"/>
<rect x="188.45" y="294.39" width="3" height="2.2" fill="#222"/>
<rect x="204.42" y="294.39" width="3" height="2.2" fill="#222"/>
<rect x="219.79" y="294.39" width="3" height="2.2" fill="#222"/>
<rect x="234.36" y="294.39" width="3" height="2.2" fill="#222"/>
</g>
<path d="M255.3,293.4 L267.6,293.4 L255.6,376.0 Z" fill="#fdf9ef" stroke="#d3b95b" stroke-width="1.3" stroke-linejoin="miter"/>
<text x="164.60" y="334.80" font-size="8.6" fill="#231f20" stroke="#231f20" stroke-width="0.2" text-anchor="middle" textLength="25.90" lengthAdjust="spacingAndGlyphs" transform="rotate(-90 164.60 334.80)" >+chlor</text>
<text x="180.50" y="289.80" font-size="8.3" fill="#231f20" stroke="#231f20" stroke-width="0.2" textLength="23.60" lengthAdjust="spacingAndGlyphs" transform="rotate(-90 180.50 289.80)" >nCas9</text>
<text x="195.20" y="289.80" font-size="8.3" fill="#231f20" stroke="#231f20" stroke-width="0.2" textLength="26.30" lengthAdjust="spacingAndGlyphs" transform="rotate(-90 195.20 289.80)" >ABE0.1</text>
<text x="211.30" y="289.80" font-size="8.3" fill="#231f20" stroke="#231f20" stroke-width="0.2" textLength="24.30" lengthAdjust="spacingAndGlyphs" transform="rotate(-90 211.30 289.80)" >ABE1.1</text>
<text x="227.80" y="289.80" font-size="8.3" fill="#231f20" stroke="#231f20" stroke-width="0.2" textLength="30.20" lengthAdjust="spacingAndGlyphs" transform="rotate(-90 227.80 289.80)" >ABE7.10</text>
<text x="245.00" y="289.80" font-size="8.3" fill="#231f20" stroke="#231f20" stroke-width="0.2" textLength="24.90" lengthAdjust="spacingAndGlyphs" transform="rotate(-90 245.00 289.80)" >ABE8e</text>
<defs><linearGradient id="cbar" x1="0" x2="0" y1="1" y2="0">
<stop offset="0" stop-color="#000"/><stop offset="0.03" stop-color="#555"/><stop offset="0.055" stop-color="#c8c8c8"/><stop offset="0.07" stop-color="#fbfbfb"/>
<stop offset="0.1" stop-color="#fffaf5"/><stop offset="0.25" stop-color="#fde6d0"/><stop offset="0.45" stop-color="#fdc894"/><stop offset="0.7" stop-color="#fda452"/><stop offset="1" stop-color="#fd7b06"/></linearGradient></defs>
<rect x="406.2" y="31.00" width="60.60" height="14.43" fill="#000000"/>
<path d="M402.60,38.07 L406.20,38.07" stroke="#444" stroke-width="0.7"/>
<text x="399.30" y="41.07" font-size="8.3" fill="#231f20" stroke="#231f20" stroke-width="0.16" text-anchor="end" >N108D</text>
<rect x="406.2" y="45.13" width="60.60" height="14.43" fill="#fdf1e6"/>
<path d="M402.60,52.20 L406.20,52.20" stroke="#444" stroke-width="0.7"/>
<text x="399.30" y="55.20" font-size="8.3" fill="#231f20" stroke="#231f20" stroke-width="0.16" text-anchor="end" >V106A</text>
<rect x="406.2" y="59.27" width="60.60" height="14.43" fill="#fd7e08"/>
<path d="M402.60,66.33 L406.20,66.33" stroke="#444" stroke-width="0.7"/>
<text x="399.30" y="69.33" font-size="8.3" fill="#231f20" stroke="#231f20" stroke-width="0.16" text-anchor="end" >Y147D</text>
<rect x="406.2" y="73.40" width="60.60" height="14.43" fill="#fffbf8"/>
<path d="M402.60,80.47 L406.20,80.47" stroke="#444" stroke-width="0.7"/>
<text x="399.30" y="83.47" font-size="8.3" fill="#231f20" stroke="#231f20" stroke-width="0.16" text-anchor="end" >V155E</text>
<rect x="406.2" y="87.53" width="60.60" height="14.43" fill="#fffcfa"/>
<path d="M402.60,94.60 L406.20,94.60" stroke="#444" stroke-width="0.7"/>
<text x="399.30" y="97.60" font-size="8.3" fill="#231f20" stroke="#231f20" stroke-width="0.16" text-anchor="end" >F84L</text>
<rect x="406.2" y="101.67" width="60.60" height="14.43" fill="#fdefe2"/>
<path d="M402.60,108.73 L406.20,108.73" stroke="#444" stroke-width="0.7"/>
<text x="399.30" y="111.73" font-size="8.3" fill="#231f20" stroke="#231f20" stroke-width="0.16" text-anchor="end" >Y123H</text>
<rect x="406.2" y="115.80" width="60.60" height="14.43" fill="#c6c6c6"/>
<path d="M402.60,122.87 L406.20,122.87" stroke="#444" stroke-width="0.7"/>
<text x="399.30" y="125.87" font-size="8.3" fill="#231f20" stroke="#231f20" stroke-width="0.16" text-anchor="end" >F156I</text>
<rect x="406.2" y="129.93" width="60.60" height="14.43" fill="#fdf3ea"/>
<path d="M402.60,137.00 L406.20,137.00" stroke="#444" stroke-width="0.7"/>
<text x="399.30" y="140.00" font-size="8.3" fill="#231f20" stroke="#231f20" stroke-width="0.16" text-anchor="end" >L36H</text>
<rect x="406.2" y="144.07" width="60.60" height="14.43" fill="#fff8f3"/>
<path d="M402.60,151.13 L406.20,151.13" stroke="#444" stroke-width="0.7"/>
<text x="399.30" y="154.13" font-size="8.3" fill="#231f20" stroke="#231f20" stroke-width="0.16" text-anchor="end" >L51R</text>
<rect x="406.2" y="158.20" width="60.60" height="14.43" fill="#fdd9b6"/>
<path d="M402.60,165.27 L406.20,165.27" stroke="#444" stroke-width="0.7"/>
<text x="399.30" y="168.27" font-size="8.3" fill="#231f20" stroke="#231f20" stroke-width="0.16" text-anchor="end" >C146S</text>
<rect x="406.2" y="172.33" width="60.60" height="14.43" fill="#fffaf6"/>
<path d="M402.60,179.40 L406.20,179.40" stroke="#444" stroke-width="0.7"/>
<text x="399.30" y="182.40" font-size="8.3" fill="#231f20" stroke="#231f20" stroke-width="0.16" text-anchor="end" >N157K</text>
<rect x="406.2" y="186.47" width="60.60" height="14.43" fill="#666666"/>
<path d="M402.60,193.53 L406.20,193.53" stroke="#444" stroke-width="0.7"/>
<text x="399.30" y="196.53" font-size="8.3" fill="#231f20" stroke="#231f20" stroke-width="0.16" text-anchor="end" >A48P</text>
<rect x="406.2" y="200.60" width="60.60" height="14.43" fill="#fff7ef"/>
<path d="M402.60,207.67 L406.20,207.67" stroke="#444" stroke-width="0.7"/>
<text x="399.30" y="210.67" font-size="8.3" fill="#231f20" stroke="#231f20" stroke-width="0.16" text-anchor="end" >R23W</text>
<rect x="406.2" y="214.73" width="60.60" height="14.43" fill="#fefcfa"/>
<path d="M402.60,221.80 L406.20,221.80" stroke="#444" stroke-width="0.7"/>
<text x="399.30" y="224.80" font-size="8.3" fill="#231f20" stroke="#231f20" stroke-width="0.16" text-anchor="end" >P152R</text>
<rect x="406.2" y="228.87" width="60.60" height="14.43" fill="#ffffff"/>
<path d="M402.60,235.93 L406.20,235.93" stroke="#444" stroke-width="0.7"/>
<text x="399.30" y="238.93" font-size="8.3" fill="#231f20" stroke="#231f20" stroke-width="0.16" text-anchor="end" >ABE7.10</text>
<rect x="406.2" y="31.0" width="60.60" height="212.00" fill="none" stroke="#555" stroke-width="0.8"/>
<path d="M436.50,243.0 L436.50,246.2" stroke="#444" stroke-width="0.7"/>
<text x="436.50" y="257.60" font-size="8.6" fill="#231f20" stroke="#231f20" stroke-width="0.16" text-anchor="middle" >T<tspan fill="#f01e28" stroke="#f01e28">A</tspan>G</text>
<rect x="473.8" y="31.4" width="8.6" height="211.8" fill="url(#cbar)" stroke="#bbb" stroke-width="0.4"/>
<path d="M482.40,243.00 L484.20,243.00" stroke="#444" stroke-width="0.6"/>
<text x="487.00" y="245.90" font-size="7.8" fill="#231f20" stroke="#231f20" stroke-width="0.16" >0</text>
<path d="M482.40,191.50 L484.20,191.50" stroke="#444" stroke-width="0.6"/>
<text x="487.00" y="194.40" font-size="7.8" fill="#231f20" stroke="#231f20" stroke-width="0.16" >50</text>
<path d="M482.40,140.00 L484.20,140.00" stroke="#444" stroke-width="0.6"/>
<text x="487.00" y="142.90" font-size="7.8" fill="#231f20" stroke="#231f20" stroke-width="0.16" >100</text>
<path d="M482.40,88.50 L484.20,88.50" stroke="#444" stroke-width="0.6"/>
<text x="487.00" y="91.40" font-size="7.8" fill="#231f20" stroke="#231f20" stroke-width="0.16" >150</text>
<path d="M482.40,37.00 L484.20,37.00" stroke="#444" stroke-width="0.6"/>
<text x="487.00" y="39.90" font-size="7.8" fill="#231f20" stroke="#231f20" stroke-width="0.16" >200</text>
<text x="438.10" y="14.20" font-size="8.2" fill="#231f20" stroke="#231f20" stroke-width="0.16" text-anchor="middle" textLength="111.00" lengthAdjust="spacingAndGlyphs" >Fold change in ABE activity,</text>
<text x="438.10" y="24.20" font-size="8.2" fill="#231f20" stroke="#231f20" stroke-width="0.16" text-anchor="middle" textLength="96.20" lengthAdjust="spacingAndGlyphs" >H193Y bacterial reporter</text>
<text x="367.60" y="8.90" font-size="13" fill="#000" font-weight="bold" stroke="#000" stroke-width="0.5">b</text>
<rect x="587.2" y="31.00" width="60.40" height="14.43" fill="#000000"/>
<path d="M583.60,38.07 L587.20,38.07" stroke="#444" stroke-width="0.7"/>
<text x="580.60" y="41.07" font-size="8.3" fill="#231f20" stroke="#231f20" stroke-width="0.16" text-anchor="end" >N108D</text>
<rect x="587.2" y="45.13" width="60.40" height="14.43" fill="#fdf2e8"/>
<path d="M583.60,52.20 L587.20,52.20" stroke="#444" stroke-width="0.7"/>
<text x="580.60" y="55.20" font-size="8.3" fill="#231f20" stroke="#231f20" stroke-width="0.16" text-anchor="end" >V106A</text>
<rect x="587.2" y="59.27" width="60.40" height="14.43" fill="#fd7e08"/>
<path d="M583.60,66.33 L587.20,66.33" stroke="#444" stroke-width="0.7"/>
<text x="580.60" y="69.33" font-size="8.3" fill="#231f20" stroke="#231f20" stroke-width="0.16" text-anchor="end" >Y147D</text>
<rect x="587.2" y="73.40" width="60.40" height="14.43" fill="#686868"/>
<path d="M583.60,80.47 L587.20,80.47" stroke="#444" stroke-width="0.7"/>
<text x="580.60" y="83.47" font-size="8.3" fill="#231f20" stroke="#231f20" stroke-width="0.16" text-anchor="end" >V155E</text>
<rect x="587.2" y="87.53" width="60.40" height="14.43" fill="#363636"/>
<path d="M583.60,94.60 L587.20,94.60" stroke="#444" stroke-width="0.7"/>
<text x="580.60" y="97.60" font-size="8.3" fill="#231f20" stroke="#231f20" stroke-width="0.16" text-anchor="end" >F84L</text>
<rect x="587.2" y="101.67" width="60.40" height="14.43" fill="#fde0c6"/>
<path d="M583.60,108.73 L587.20,108.73" stroke="#444" stroke-width="0.7"/>
<text x="580.60" y="111.73" font-size="8.3" fill="#231f20" stroke="#231f20" stroke-width="0.16" text-anchor="end" >Y123H</text>
<rect x="587.2" y="115.80" width="60.40" height="14.43" fill="#0b0b0b"/>
<path d="M583.60,122.87 L587.20,122.87" stroke="#444" stroke-width="0.7"/>
<text x="580.60" y="125.87" font-size="8.3" fill="#231f20" stroke="#231f20" stroke-width="0.16" text-anchor="end" >F156I</text>
<rect x="587.2" y="129.93" width="60.40" height="14.43" fill="#fdf2e8"/>
<path d="M583.60,137.00 L587.20,137.00" stroke="#444" stroke-width="0.7"/>
<text x="580.60" y="140.00" font-size="8.3" fill="#231f20" stroke="#231f20" stroke-width="0.16" text-anchor="end" >L36H</text>
<rect x="587.2" y="144.07" width="60.40" height="14.43" fill="#c7c7c7"/>
<path d="M583.60,151.13 L587.20,151.13" stroke="#444" stroke-width="0.7"/>
<text x="580.60" y="154.13" font-size="8.3" fill="#231f20" stroke="#231f20" stroke-width="0.16" text-anchor="end" >L51R</text>
<rect x="587.2" y="158.20" width="60.40" height="14.43" fill="#fdad66"/>
<path d="M583.60,165.27 L587.20,165.27" stroke="#444" stroke-width="0.7"/>
<text x="580.60" y="168.27" font-size="8.3" fill="#231f20" stroke="#231f20" stroke-width="0.16" text-anchor="end" >C146S</text>
<rect x="587.2" y="172.33" width="60.40" height="14.43" fill="#fdefe0"/>
<path d="M583.60,179.40 L587.20,179.40" stroke="#444" stroke-width="0.7"/>
<text x="580.60" y="182.40" font-size="8.3" fill="#231f20" stroke="#231f20" stroke-width="0.16" text-anchor="end" >N157K</text>
<rect x="587.2" y="186.47" width="60.40" height="14.43" fill="#232323"/>
<path d="M583.60,193.53 L587.20,193.53" stroke="#444" stroke-width="0.7"/>
<text x="580.60" y="196.53" font-size="8.3" fill="#231f20" stroke="#231f20" stroke-width="0.16" text-anchor="end" >A48P</text>
<rect x="587.2" y="200.60" width="60.40" height="14.43" fill="#c6c6c6"/>
<path d="M583.60,207.67 L587.20,207.67" stroke="#444" stroke-width="0.7"/>
<text x="580.60" y="210.67" font-size="8.3" fill="#231f20" stroke="#231f20" stroke-width="0.16" text-anchor="end" >R23W</text>
<rect x="587.2" y="214.73" width="60.40" height="14.43" fill="#c6c6c6"/>
<path d="M583.60,221.80 L587.20,221.80" stroke="#444" stroke-width="0.7"/>
<text x="580.60" y="224.80" font-size="8.3" fill="#231f20" stroke="#231f20" stroke-width="0.16" text-anchor="end" >P152R</text>
<rect x="587.2" y="228.87" width="60.40" height="14.43" fill="#ffffff"/>
<path d="M583.60,235.93 L587.20,235.93" stroke="#444" stroke-width="0.7"/>
<text x="580.60" y="238.93" font-size="8.3" fill="#231f20" stroke="#231f20" stroke-width="0.16" text-anchor="end" >ABE7.10</text>
<rect x="587.2" y="31.0" width="60.40" height="212.00" fill="none" stroke="#555" stroke-width="0.8"/>
<path d="M617.40,243.0 L617.40,246.2" stroke="#444" stroke-width="0.7"/>
<text x="617.40" y="257.60" font-size="8.6" fill="#231f20" stroke="#231f20" stroke-width="0.16" text-anchor="middle" >T<tspan fill="#f01e28" stroke="#f01e28">A</tspan>C</text>
<rect x="654.6" y="31.4" width="8.6" height="211.8" fill="url(#cbar)" stroke="#bbb" stroke-width="0.4"/>
<path d="M663.20,243.00 L665.00,243.00" stroke="#444" stroke-width="0.6"/>
<text x="667.80" y="245.90" font-size="7.8" fill="#231f20" stroke="#231f20" stroke-width="0.16" >0</text>
<path d="M663.20,159.40 L665.00,159.40" stroke="#444" stroke-width="0.6"/>
<text x="667.80" y="162.30" font-size="7.8" fill="#231f20" stroke="#231f20" stroke-width="0.16" >5</text>
<path d="M663.20,75.80 L665.00,75.80" stroke="#444" stroke-width="0.6"/>
<text x="667.80" y="78.70" font-size="7.8" fill="#231f20" stroke="#231f20" stroke-width="0.16" >10</text>
<text x="615.80" y="14.20" font-size="8.2" fill="#231f20" stroke="#231f20" stroke-width="0.16" text-anchor="middle" textLength="109.20" lengthAdjust="spacingAndGlyphs" >Fold change in ABE activity</text>
<text x="615.80" y="24.20" font-size="8.2" fill="#231f20" stroke="#231f20" stroke-width="0.16" text-anchor="middle" textLength="95.60" lengthAdjust="spacingAndGlyphs" >Q122* bacterial reporter</text>
<text x="544.60" y="8.90" font-size="13" fill="#000" font-weight="bold" stroke="#000" stroke-width="0.5">c</text>
<path d="M339.50,314.00 L339.50,403.50 L475.60,403.50" fill="none" stroke="#555" stroke-width="0.8"/>
<path d="M336.10,347.60 L475.60,347.60" stroke="#555" stroke-width="0.8"/>
<path d="M336.10,403.50 L339.50,403.50" stroke="#555" stroke-width="0.8"/>
<text x="321.80" y="406.10" font-size="6.8" fill="#333" stroke="#333" stroke-width="0.16" textLength="7.30" lengthAdjust="spacingAndGlyphs" >10</text>
<text x="329.30" y="402.30" font-size="4.6" fill="#333" stroke="#333" stroke-width="0.16" >−5</text>
<path d="M336.10,392.32 L339.50,392.32" stroke="#555" stroke-width="0.8"/>
<text x="321.80" y="394.92" font-size="6.8" fill="#333" stroke="#333" stroke-width="0.16" textLength="7.30" lengthAdjust="spacingAndGlyphs" >10</text>
<text x="329.30" y="391.12" font-size="4.6" fill="#333" stroke="#333" stroke-width="0.16" >−4</text>
<path d="M336.10,381.14 L339.50,381.14" stroke="#555" stroke-width="0.8"/>
<text x="321.80" y="383.74" font-size="6.8" fill="#333" stroke="#333" stroke-width="0.16" textLength="7.30" lengthAdjust="spacingAndGlyphs" >10</text>
<text x="329.30" y="379.94" font-size="4.6" fill="#333" stroke="#333" stroke-width="0.16" >−3</text>
<path d="M336.10,369.96 L339.50,369.96" stroke="#555" stroke-width="0.8"/>
<text x="321.80" y="372.56" font-size="6.8" fill="#333" stroke="#333" stroke-width="0.16" textLength="7.30" lengthAdjust="spacingAndGlyphs" >10</text>
<text x="329.30" y="368.76" font-size="4.6" fill="#333" stroke="#333" stroke-width="0.16" >−2</text>
<path d="M336.10,358.78 L339.50,358.78" stroke="#555" stroke-width="0.8"/>
<text x="321.80" y="361.38" font-size="6.8" fill="#333" stroke="#333" stroke-width="0.16" textLength="7.30" lengthAdjust="spacingAndGlyphs" >10</text>
<text x="329.30" y="357.58" font-size="4.6" fill="#333" stroke="#333" stroke-width="0.16" >−1</text>
<path d="M336.10,347.60 L339.50,347.60" stroke="#555" stroke-width="0.8"/>
<text x="321.80" y="350.20" font-size="6.8" fill="#333" stroke="#333" stroke-width="0.16" textLength="7.30" lengthAdjust="spacingAndGlyphs" >10</text>
<text x="329.30" y="346.40" font-size="4.6" fill="#333" stroke="#333" stroke-width="0.16" >0</text>
<path d="M336.10,336.42 L339.50,336.42" stroke="#555" stroke-width="0.8"/>
<text x="321.80" y="339.02" font-size="6.8" fill="#333" stroke="#333" stroke-width="0.16" textLength="7.30" lengthAdjust="spacingAndGlyphs" >10</text>
<text x="329.30" y="335.22" font-size="4.6" fill="#333" stroke="#333" stroke-width="0.16" >1</text>
<path d="M336.10,325.24 L339.50,325.24" stroke="#555" stroke-width="0.8"/>
<text x="321.80" y="327.84" font-size="6.8" fill="#333" stroke="#333" stroke-width="0.16" textLength="7.30" lengthAdjust="spacingAndGlyphs" >10</text>
<text x="329.30" y="324.04" font-size="4.6" fill="#333" stroke="#333" stroke-width="0.16" >2</text>
<path d="M336.10,314.06 L339.50,314.06" stroke="#555" stroke-width="0.8"/>
<text x="321.80" y="316.66" font-size="6.8" fill="#333" stroke="#333" stroke-width="0.16" textLength="7.30" lengthAdjust="spacingAndGlyphs" >10</text>
<text x="329.30" y="312.86" font-size="4.6" fill="#333" stroke="#333" stroke-width="0.16" >3</text>
<path d="M345.80,403.50 L345.80,406.90" stroke="#555" stroke-width="0.8"/>
<path d="M345.80,372.50 L345.80,400.00 M344.60,372.50 L347.00,372.50 M344.60,400.00 L347.00,400.00" stroke="#111" stroke-width="0.7"/>
<rect x="343.00" y="374.10" width="5.6" height="16.60" fill="#a3191c" stroke="#1a1a1a" stroke-width="0.7"/>
<path d="M343.00,385.30 L348.60,385.30" stroke="#111" stroke-width="0.7"/>
<circle cx="344.42" cy="386.89" r="0.8" fill="#111"/>
<circle cx="344.69" cy="390.69" r="0.8" fill="#111"/>
<circle cx="347.08" cy="380.20" r="0.8" fill="#111"/>
<circle cx="345.80" cy="372.50" r="0.8" fill="#111"/><circle cx="345.80" cy="400.00" r="0.8" fill="#111"/>
<text x="348.20" y="413.70" font-size="7.4" fill="#222" stroke="#222" stroke-width="0.14" text-anchor="end" textLength="51.30" lengthAdjust="spacingAndGlyphs" transform="rotate(-45 348.20 413.70)" >ABE7.10-N108D</text>
<path d="M355.24,403.50 L355.24,406.90" stroke="#555" stroke-width="0.8"/>
<path d="M355.24,323.60 L355.24,360.90 M354.04,323.60 L356.44,323.60 M354.04,360.90 L356.44,360.90" stroke="#111" stroke-width="0.7"/>
<rect x="352.44" y="346.90" width="5.6" height="6.30" fill="#b2151d" stroke="#1a1a1a" stroke-width="0.7"/>
<path d="M352.44,348.20 L358.04,348.20" stroke="#111" stroke-width="0.7"/>
<circle cx="355.47" cy="352.43" r="0.8" fill="#111"/>
<circle cx="356.45" cy="347.14" r="0.8" fill="#111"/>
<circle cx="355.55" cy="347.55" r="0.8" fill="#111"/>
<circle cx="355.24" cy="323.60" r="0.8" fill="#111"/><circle cx="355.24" cy="360.90" r="0.8" fill="#111"/>
<text x="357.64" y="413.70" font-size="7.4" fill="#222" stroke="#222" stroke-width="0.14" text-anchor="end" textLength="51.30" lengthAdjust="spacingAndGlyphs" transform="rotate(-45 357.64 413.70)" >ABE7.10-V106A</text>
<path d="M364.68,403.50 L364.68,406.90" stroke="#555" stroke-width="0.8"/>
<path d="M364.68,315.00 L364.68,347.60 M363.48,315.00 L365.88,315.00 M363.48,347.60 L365.88,347.60" stroke="#111" stroke-width="0.7"/>
<rect x="361.88" y="317.80" width="5.6" height="17.90" fill="#f47519" stroke="#1a1a1a" stroke-width="0.7"/>
<path d="M361.88,329.90 L367.48,329.90" stroke="#111" stroke-width="0.7"/>
<circle cx="363.53" cy="327.96" r="0.8" fill="#111"/>
<circle cx="366.03" cy="326.92" r="0.8" fill="#111"/>
<circle cx="364.72" cy="334.73" r="0.8" fill="#111"/>
<circle cx="364.68" cy="315.00" r="0.8" fill="#111"/><circle cx="364.68" cy="347.60" r="0.8" fill="#111"/>
<text x="367.08" y="413.70" font-size="7.4" fill="#222" stroke="#222" stroke-width="0.14" text-anchor="end" textLength="51.30" lengthAdjust="spacingAndGlyphs" transform="rotate(-45 367.08 413.70)" >ABE7.10-Y147D</text>
<path d="M374.12,403.50 L374.12,406.90" stroke="#555" stroke-width="0.8"/>
<path d="M374.12,340.00 L374.12,357.40 M372.92,340.00 L375.32,340.00 M372.92,357.40 L375.32,357.40" stroke="#111" stroke-width="0.7"/>
<rect x="371.32" y="341.10" width="5.6" height="14.40" fill="#f47519" stroke="#1a1a1a" stroke-width="0.7"/>
<path d="M371.32,344.60 L376.92,344.60" stroke="#111" stroke-width="0.7"/>
<circle cx="374.51" cy="352.92" r="0.8" fill="#111"/>
<circle cx="372.95" cy="347.84" r="0.8" fill="#111"/>
<circle cx="373.54" cy="351.28" r="0.8" fill="#111"/>
<circle cx="374.12" cy="340.00" r="0.8" fill="#111"/><circle cx="374.12" cy="357.40" r="0.8" fill="#111"/>
<text x="376.52" y="413.70" font-size="7.4" fill="#222" stroke="#222" stroke-width="0.14" text-anchor="end" textLength="51.30" lengthAdjust="spacingAndGlyphs" transform="rotate(-45 376.52 413.70)" >ABE7.10-V155E</text>
<path d="M383.56,403.50 L383.56,406.90" stroke="#555" stroke-width="0.8"/>
<path d="M383.56,332.50 L383.56,372.00 M382.36,332.50 L384.76,332.50 M382.36,372.00 L384.76,372.00" stroke="#111" stroke-width="0.7"/>
<rect x="380.76" y="339.90" width="5.6" height="27.50" fill="#fdc40f" stroke="#1a1a1a" stroke-width="0.7"/>
<path d="M380.76,360.40 L386.36,360.40" stroke="#111" stroke-width="0.7"/>
<circle cx="384.58" cy="366.96" r="0.8" fill="#111"/>
<circle cx="384.59" cy="354.10" r="0.8" fill="#111"/>
<circle cx="383.88" cy="341.33" r="0.8" fill="#111"/>
<circle cx="383.56" cy="332.50" r="0.8" fill="#111"/><circle cx="383.56" cy="372.00" r="0.8" fill="#111"/>
<text x="385.96" y="413.70" font-size="7.4" fill="#222" stroke="#222" stroke-width="0.14" text-anchor="end" textLength="51.30" lengthAdjust="spacingAndGlyphs" transform="rotate(-45 385.96 413.70)" >ABE7.10-F84L</text>
<path d="M393.00,403.50 L393.00,406.90" stroke="#555" stroke-width="0.8"/>
<path d="M393.00,326.00 L393.00,348.00 M391.80,326.00 L394.20,326.00 M391.80,348.00 L394.20,348.00" stroke="#111" stroke-width="0.7"/>
<rect x="390.20" y="327.80" width="5.6" height="11.70" fill="#fdc40f" stroke="#1a1a1a" stroke-width="0.7"/>
<path d="M390.20,334.10 L395.80,334.10" stroke="#111" stroke-width="0.7"/>
<circle cx="393.09" cy="328.63" r="0.8" fill="#111"/>
<circle cx="394.36" cy="328.57" r="0.8" fill="#111"/>
<circle cx="393.45" cy="333.75" r="0.8" fill="#111"/>
<circle cx="393.00" cy="326.00" r="0.8" fill="#111"/><circle cx="393.00" cy="348.00" r="0.8" fill="#111"/>
<text x="395.40" y="413.70" font-size="7.4" fill="#222" stroke="#222" stroke-width="0.14" text-anchor="end" textLength="51.30" lengthAdjust="spacingAndGlyphs" transform="rotate(-45 395.40 413.70)" >ABE7.10-Y123H</text>
<path d="M402.44,403.50 L402.44,406.90" stroke="#555" stroke-width="0.8"/>
<path d="M402.44,341.80 L402.44,370.70 M401.24,341.80 L403.64,341.80 M401.24,370.70 L403.64,370.70" stroke="#111" stroke-width="0.7"/>
<rect x="399.64" y="343.40" width="5.6" height="27.30" fill="#fdc40f" stroke="#1a1a1a" stroke-width="0.7"/>
<path d="M399.64,363.20 L405.24,363.20" stroke="#111" stroke-width="0.7"/>
<circle cx="403.42" cy="354.12" r="0.8" fill="#111"/>
<circle cx="402.90" cy="351.34" r="0.8" fill="#111"/>
<circle cx="403.12" cy="355.85" r="0.8" fill="#111"/>
<circle cx="402.44" cy="341.80" r="0.8" fill="#111"/><circle cx="402.44" cy="370.70" r="0.8" fill="#111"/>
<text x="404.84" y="413.70" font-size="7.4" fill="#222" stroke="#222" stroke-width="0.14" text-anchor="end" textLength="51.30" lengthAdjust="spacingAndGlyphs" transform="rotate(-45 404.84 413.70)" >ABE7.10-F156I</text>
<path d="M411.88,403.50 L411.88,406.90" stroke="#555" stroke-width="0.8"/>
<path d="M411.88,324.00 L411.88,352.70 M410.68,324.00 L413.08,324.00 M410.68,352.70 L413.08,352.70" stroke="#111" stroke-width="0.7"/>
<rect x="409.08" y="343.40" width="5.6" height="8.80" fill="#1ec6f4" stroke="#1a1a1a" stroke-width="0.7"/>
<path d="M409.08,349.90 L414.68,349.90" stroke="#111" stroke-width="0.7"/>
<circle cx="410.95" cy="347.85" r="0.8" fill="#111"/>
<circle cx="412.74" cy="346.50" r="0.8" fill="#111"/>
<circle cx="410.96" cy="349.54" r="0.8" fill="#111"/>
<circle cx="411.88" cy="324.00" r="0.8" fill="#111"/><circle cx="411.88" cy="352.70" r="0.8" fill="#111"/>
<text x="414.28" y="413.70" font-size="7.4" fill="#222" stroke="#222" stroke-width="0.14" text-anchor="end" textLength="51.30" lengthAdjust="spacingAndGlyphs" transform="rotate(-45 414.28 413.70)" >ABE7.10-L36H</text>
<path d="M421.32,403.50 L421.32,406.90" stroke="#555" stroke-width="0.8"/>
<path d="M421.32,327.80 L421.32,363.00 M420.12,327.80 L422.52,327.80 M420.12,363.00 L422.52,363.00" stroke="#111" stroke-width="0.7"/>
<rect x="418.52" y="341.00" width="5.6" height="14.00" fill="#1ec6f4" stroke="#1a1a1a" stroke-width="0.7"/>
<path d="M418.52,351.50 L424.12,351.50" stroke="#111" stroke-width="0.7"/>
<circle cx="422.65" cy="352.57" r="0.8" fill="#111"/>
<circle cx="422.17" cy="347.64" r="0.8" fill="#111"/>
<circle cx="421.60" cy="350.51" r="0.8" fill="#111"/>
<circle cx="421.32" cy="327.80" r="0.8" fill="#111"/><circle cx="421.32" cy="363.00" r="0.8" fill="#111"/>
<text x="423.72" y="413.70" font-size="7.4" fill="#222" stroke="#222" stroke-width="0.14" text-anchor="end" textLength="51.30" lengthAdjust="spacingAndGlyphs" transform="rotate(-45 423.72 413.70)" >ABE7.10-L51R</text>
<path d="M430.76,403.50 L430.76,406.90" stroke="#555" stroke-width="0.8"/>
<path d="M430.76,321.70 L430.76,348.00 M429.56,321.70 L431.96,321.70 M429.56,348.00 L431.96,348.00" stroke="#111" stroke-width="0.7"/>
<rect x="427.96" y="323.60" width="5.6" height="18.60" fill="#1ec6f4" stroke="#1a1a1a" stroke-width="0.7"/>
<path d="M427.96,335.20 L433.56,335.20" stroke="#111" stroke-width="0.7"/>
<circle cx="431.33" cy="324.44" r="0.8" fill="#111"/>
<circle cx="430.73" cy="329.45" r="0.8" fill="#111"/>
<circle cx="430.93" cy="331.47" r="0.8" fill="#111"/>
<circle cx="430.76" cy="321.70" r="0.8" fill="#111"/><circle cx="430.76" cy="348.00" r="0.8" fill="#111"/>
<text x="433.16" y="413.70" font-size="7.4" fill="#222" stroke="#222" stroke-width="0.14" text-anchor="end" textLength="51.30" lengthAdjust="spacingAndGlyphs" transform="rotate(-45 433.16 413.70)" >ABE7.10-C146S</text>
<path d="M440.20,403.50 L440.20,406.90" stroke="#555" stroke-width="0.8"/>
<path d="M440.20,339.40 L440.20,346.90 M439.00,339.40 L441.40,339.40 M439.00,346.90 L441.40,346.90" stroke="#111" stroke-width="0.7"/>
<rect x="437.40" y="340.60" width="5.6" height="5.10" fill="#1ec6f4" stroke="#1a1a1a" stroke-width="0.7"/>
<path d="M437.40,343.00 L443.00,343.00" stroke="#111" stroke-width="0.7"/>
<circle cx="438.84" cy="340.99" r="0.8" fill="#111"/>
<circle cx="441.58" cy="340.85" r="0.8" fill="#111"/>
<circle cx="440.33" cy="341.93" r="0.8" fill="#111"/>
<circle cx="440.20" cy="339.40" r="0.8" fill="#111"/><circle cx="440.20" cy="346.90" r="0.8" fill="#111"/>
<text x="442.60" y="413.70" font-size="7.4" fill="#222" stroke="#222" stroke-width="0.14" text-anchor="end" textLength="51.30" lengthAdjust="spacingAndGlyphs" transform="rotate(-45 442.60 413.70)" >ABE7.10-N157K</text>
<path d="M449.64,403.50 L449.64,406.90" stroke="#555" stroke-width="0.8"/>
<path d="M449.64,344.50 L449.64,378.30 M448.44,344.50 L450.84,344.50 M448.44,378.30 L450.84,378.30" stroke="#111" stroke-width="0.7"/>
<rect x="446.84" y="347.60" width="5.6" height="25.30" fill="#8436ea" stroke="#1a1a1a" stroke-width="0.7"/>
<path d="M446.84,363.60 L452.44,363.60" stroke="#111" stroke-width="0.7"/>
<circle cx="450.89" cy="349.44" r="0.8" fill="#111"/>
<circle cx="448.65" cy="351.69" r="0.8" fill="#111"/>
<circle cx="450.14" cy="365.64" r="0.8" fill="#111"/>
<circle cx="449.64" cy="344.50" r="0.8" fill="#111"/><circle cx="449.64" cy="378.30" r="0.8" fill="#111"/>
<text x="452.04" y="413.70" font-size="7.4" fill="#222" stroke="#222" stroke-width="0.14" text-anchor="end" textLength="51.30" lengthAdjust="spacingAndGlyphs" transform="rotate(-45 452.04 413.70)" >ABE7.10-A48P</text>
<path d="M459.08,403.50 L459.08,406.90" stroke="#555" stroke-width="0.8"/>
<path d="M459.08,328.70 L459.08,376.60 M457.88,328.70 L460.28,328.70 M457.88,376.60 L460.28,376.60" stroke="#111" stroke-width="0.7"/>
<rect x="456.28" y="338.70" width="5.6" height="26.80" fill="#8436ea" stroke="#1a1a1a" stroke-width="0.7"/>
<path d="M456.28,355.70 L461.88,355.70" stroke="#111" stroke-width="0.7"/>
<circle cx="457.90" cy="344.89" r="0.8" fill="#111"/>
<circle cx="458.08" cy="356.29" r="0.8" fill="#111"/>
<circle cx="458.63" cy="346.43" r="0.8" fill="#111"/>
<circle cx="459.08" cy="328.70" r="0.8" fill="#111"/><circle cx="459.08" cy="376.60" r="0.8" fill="#111"/>
<text x="461.48" y="413.70" font-size="7.4" fill="#222" stroke="#222" stroke-width="0.14" text-anchor="end" textLength="51.30" lengthAdjust="spacingAndGlyphs" transform="rotate(-45 461.48 413.70)" >ABE7.10-R23W</text>
<path d="M468.52,403.50 L468.52,406.90" stroke="#555" stroke-width="0.8"/>
<path d="M468.52,339.90 L468.52,367.10 M467.32,339.90 L469.72,339.90 M467.32,367.10 L469.72,367.10" stroke="#111" stroke-width="0.7"/>
<rect x="465.72" y="341.70" width="5.6" height="11.00" fill="#8436ea" stroke="#1a1a1a" stroke-width="0.7"/>
<path d="M465.72,346.20 L471.32,346.20" stroke="#111" stroke-width="0.7"/>
<circle cx="467.87" cy="347.10" r="0.8" fill="#111"/>
<circle cx="468.39" cy="343.32" r="0.8" fill="#111"/>
<circle cx="467.52" cy="349.08" r="0.8" fill="#111"/>
<circle cx="468.52" cy="339.90" r="0.8" fill="#111"/><circle cx="468.52" cy="367.10" r="0.8" fill="#111"/>
<text x="470.92" y="413.70" font-size="7.4" fill="#222" stroke="#222" stroke-width="0.14" text-anchor="end" textLength="51.30" lengthAdjust="spacingAndGlyphs" transform="rotate(-45 470.92 413.70)" >ABE7.10-P152R</text>
<text x="292.60" y="281.60" font-size="13" fill="#000" font-weight="bold" stroke="#000" stroke-width="0.5">d</text>
<text x="409.30" y="286.90" font-size="8.3" fill="#231f20" stroke="#231f20" stroke-width="0.16" text-anchor="middle" textLength="122.00" lengthAdjust="spacingAndGlyphs" >Cam<tspan font-size="5.5" dy="-3.6">R</tspan><tspan dy="3.6"> H193Y bacterial reporter</tspan></text>
<text x="409.30" y="298.10" font-size="8.3" fill="#231f20" stroke="#231f20" stroke-width="0.16" text-anchor="middle" textLength="96.10" lengthAdjust="spacingAndGlyphs" >(T<tspan fill="#f01e28" stroke="#f01e28">A</tspan>G motif) fold change</text>
<text x="409.30" y="309.60" font-size="8.3" fill="#231f20" stroke="#231f20" stroke-width="0.16" text-anchor="middle" textLength="55.20" lengthAdjust="spacingAndGlyphs" >in ABE activity</text>
<text x="301.00" y="358.50" font-size="8.5" fill="#231f20" stroke="#231f20" stroke-width="0.16" text-anchor="middle" textLength="110.20" lengthAdjust="spacingAndGlyphs" transform="rotate(-90 301.00 358.50)" >Fold change in survival rate</text>
<text x="311.90" y="358.50" font-size="8.5" fill="#231f20" stroke="#231f20" stroke-width="0.16" text-anchor="middle" textLength="94.00" lengthAdjust="spacingAndGlyphs" transform="rotate(-90 311.90 358.50)" >with respect to ABE7.10</text>
<path d="M548.60,313.10 L548.60,404.40 L681.70,404.40" fill="none" stroke="#555" stroke-width="0.8"/>
<path d="M545.20,339.50 L685.00,339.50" stroke="#555" stroke-width="0.8"/>
<path d="M545.20,404.40 L548.60,404.40" stroke="#555" stroke-width="0.8"/>
<text x="530.90" y="407.00" font-size="6.8" fill="#333" stroke="#333" stroke-width="0.16" textLength="7.30" lengthAdjust="spacingAndGlyphs" >10</text>
<text x="538.40" y="403.20" font-size="4.6" fill="#333" stroke="#333" stroke-width="0.16" >−5</text>
<path d="M545.20,391.42 L548.60,391.42" stroke="#555" stroke-width="0.8"/>
<text x="530.90" y="394.02" font-size="6.8" fill="#333" stroke="#333" stroke-width="0.16" textLength="7.30" lengthAdjust="spacingAndGlyphs" >10</text>
<text x="538.40" y="390.22" font-size="4.6" fill="#333" stroke="#333" stroke-width="0.16" >−4</text>
<path d="M545.20,378.44 L548.60,378.44" stroke="#555" stroke-width="0.8"/>
<text x="530.90" y="381.04" font-size="6.8" fill="#333" stroke="#333" stroke-width="0.16" textLength="7.30" lengthAdjust="spacingAndGlyphs" >10</text>
<text x="538.40" y="377.24" font-size="4.6" fill="#333" stroke="#333" stroke-width="0.16" >−3</text>
<path d="M545.20,365.46 L548.60,365.46" stroke="#555" stroke-width="0.8"/>
<text x="530.90" y="368.06" font-size="6.8" fill="#333" stroke="#333" stroke-width="0.16" textLength="7.30" lengthAdjust="spacingAndGlyphs" >10</text>
<text x="538.40" y="364.26" font-size="4.6" fill="#333" stroke="#333" stroke-width="0.16" >−2</text>
<path d="M545.20,352.48 L548.60,352.48" stroke="#555" stroke-width="0.8"/>
<text x="530.90" y="355.08" font-size="6.8" fill="#333" stroke="#333" stroke-width="0.16" textLength="7.30" lengthAdjust="spacingAndGlyphs" >10</text>
<text x="538.40" y="351.28" font-size="4.6" fill="#333" stroke="#333" stroke-width="0.16" >−1</text>
<path d="M545.20,339.50 L548.60,339.50" stroke="#555" stroke-width="0.8"/>
<text x="530.90" y="342.10" font-size="6.8" fill="#333" stroke="#333" stroke-width="0.16" textLength="7.30" lengthAdjust="spacingAndGlyphs" >10</text>
<text x="538.40" y="338.30" font-size="4.6" fill="#333" stroke="#333" stroke-width="0.16" >0</text>
<path d="M545.20,326.52 L548.60,326.52" stroke="#555" stroke-width="0.8"/>
<text x="530.90" y="329.12" font-size="6.8" fill="#333" stroke="#333" stroke-width="0.16" textLength="7.30" lengthAdjust="spacingAndGlyphs" >10</text>
<text x="538.40" y="325.32" font-size="4.6" fill="#333" stroke="#333" stroke-width="0.16" >1</text>
<path d="M545.20,313.54 L548.60,313.54" stroke="#555" stroke-width="0.8"/>
<text x="530.90" y="316.14" font-size="6.8" fill="#333" stroke="#333" stroke-width="0.16" textLength="7.30" lengthAdjust="spacingAndGlyphs" >10</text>
<text x="538.40" y="312.34" font-size="4.6" fill="#333" stroke="#333" stroke-width="0.16" >2</text>
<path d="M554.40,404.40 L554.40,407.80" stroke="#555" stroke-width="0.8"/>
<path d="M554.40,373.20 L554.40,396.30 M553.20,373.20 L555.60,373.20 M553.20,396.30 L555.60,396.30" stroke="#111" stroke-width="0.7"/>
<rect x="551.40" y="380.00" width="6.0" height="15.30" fill="#a3191c" stroke="#1a1a1a" stroke-width="0.7"/>
<path d="M551.40,391.10 L557.40,391.10" stroke="#111" stroke-width="0.7"/>
<circle cx="553.42" cy="387.89" r="0.8" fill="#111"/>
<circle cx="553.53" cy="385.52" r="0.8" fill="#111"/>
<circle cx="553.35" cy="393.51" r="0.8" fill="#111"/>
<circle cx="554.40" cy="373.20" r="0.8" fill="#111"/><circle cx="554.40" cy="396.30" r="0.8" fill="#111"/>
<text x="556.80" y="414.60" font-size="7.4" fill="#222" stroke="#222" stroke-width="0.14" text-anchor="end" textLength="51.30" lengthAdjust="spacingAndGlyphs" transform="rotate(-45 556.80 414.60)" >ABE7.10-N108D</text>
<path d="M563.76,404.40 L563.76,407.80" stroke="#555" stroke-width="0.8"/>
<path d="M563.76,331.50 L563.76,354.40 M562.56,331.50 L564.96,331.50 M562.56,354.40 L564.96,354.40" stroke="#111" stroke-width="0.7"/>
<rect x="560.76" y="331.80" width="6.0" height="10.90" fill="#b2151d" stroke="#1a1a1a" stroke-width="0.7"/>
<path d="M560.76,337.60 L566.76,337.60" stroke="#111" stroke-width="0.7"/>
<circle cx="564.02" cy="340.13" r="0.8" fill="#111"/>
<circle cx="562.27" cy="337.14" r="0.8" fill="#111"/>
<circle cx="563.40" cy="341.68" r="0.8" fill="#111"/>
<circle cx="563.76" cy="331.50" r="0.8" fill="#111"/><circle cx="563.76" cy="354.40" r="0.8" fill="#111"/>
<text x="566.16" y="414.60" font-size="7.4" fill="#222" stroke="#222" stroke-width="0.14" text-anchor="end" textLength="51.30" lengthAdjust="spacingAndGlyphs" transform="rotate(-45 566.16 414.60)" >ABE7.10-V106A</text>
<path d="M573.12,404.40 L573.12,407.80" stroke="#555" stroke-width="0.8"/>
<path d="M573.12,318.50 L573.12,336.00 M571.92,318.50 L574.32,318.50 M571.92,336.00 L574.32,336.00" stroke="#111" stroke-width="0.7"/>
<rect x="570.12" y="322.00" width="6.0" height="10.50" fill="#f47519" stroke="#1a1a1a" stroke-width="0.7"/>
<path d="M570.12,328.30 L576.12,328.30" stroke="#111" stroke-width="0.7"/>
<circle cx="572.65" cy="329.43" r="0.8" fill="#111"/>
<circle cx="574.27" cy="328.10" r="0.8" fill="#111"/>
<circle cx="572.01" cy="328.66" r="0.8" fill="#111"/>
<circle cx="573.12" cy="318.50" r="0.8" fill="#111"/><circle cx="573.12" cy="336.00" r="0.8" fill="#111"/>
<text x="575.52" y="414.60" font-size="7.4" fill="#222" stroke="#222" stroke-width="0.14" text-anchor="end" textLength="51.30" lengthAdjust="spacingAndGlyphs" transform="rotate(-45 575.52 414.60)" >ABE7.10-Y147D</text>
<path d="M582.48,404.40 L582.48,407.80" stroke="#555" stroke-width="0.8"/>
<path d="M582.48,335.30 L582.48,368.60 M581.28,335.30 L583.68,335.30 M581.28,368.60 L583.68,368.60" stroke="#111" stroke-width="0.7"/>
<rect x="579.48" y="343.00" width="6.0" height="20.70" fill="#f47519" stroke="#1a1a1a" stroke-width="0.7"/>
<path d="M579.48,356.20 L585.48,356.20" stroke="#111" stroke-width="0.7"/>
<circle cx="582.85" cy="349.51" r="0.8" fill="#111"/>
<circle cx="583.59" cy="350.41" r="0.8" fill="#111"/>
<circle cx="583.24" cy="351.12" r="0.8" fill="#111"/>
<circle cx="582.48" cy="335.30" r="0.8" fill="#111"/><circle cx="582.48" cy="368.60" r="0.8" fill="#111"/>
<text x="584.88" y="414.60" font-size="7.4" fill="#222" stroke="#222" stroke-width="0.14" text-anchor="end" textLength="51.30" lengthAdjust="spacingAndGlyphs" transform="rotate(-45 584.88 414.60)" >ABE7.10-V155E</text>
<path d="M591.84,404.40 L591.84,407.80" stroke="#555" stroke-width="0.8"/>
<path d="M591.84,340.40 L591.84,367.90 M590.64,340.40 L593.04,340.40 M590.64,367.90 L593.04,367.90" stroke="#111" stroke-width="0.7"/>
<rect x="588.84" y="346.40" width="6.0" height="20.30" fill="#fdc40f" stroke="#1a1a1a" stroke-width="0.7"/>
<path d="M588.84,350.40 L594.84,350.40" stroke="#111" stroke-width="0.7"/>
<circle cx="591.50" cy="357.58" r="0.8" fill="#111"/>
<circle cx="591.91" cy="356.83" r="0.8" fill="#111"/>
<circle cx="591.21" cy="364.40" r="0.8" fill="#111"/>
<circle cx="591.84" cy="340.40" r="0.8" fill="#111"/><circle cx="591.84" cy="367.90" r="0.8" fill="#111"/>
<text x="594.24" y="414.60" font-size="7.4" fill="#222" stroke="#222" stroke-width="0.14" text-anchor="end" textLength="51.30" lengthAdjust="spacingAndGlyphs" transform="rotate(-45 594.24 414.60)" >ABE7.10-F84L</text>
<path d="M601.20,404.40 L601.20,407.80" stroke="#555" stroke-width="0.8"/>
<path d="M601.20,324.30 L601.20,348.10 M600.00,324.30 L602.40,324.30 M600.00,348.10 L602.40,348.10" stroke="#111" stroke-width="0.7"/>
<rect x="598.20" y="329.40" width="6.0" height="12.90" fill="#fdc40f" stroke="#1a1a1a" stroke-width="0.7"/>
<path d="M598.20,336.00 L604.20,336.00" stroke="#111" stroke-width="0.7"/>
<circle cx="602.41" cy="335.28" r="0.8" fill="#111"/>
<circle cx="601.20" cy="335.00" r="0.8" fill="#111"/>
<circle cx="601.36" cy="339.87" r="0.8" fill="#111"/>
<circle cx="601.20" cy="324.30" r="0.8" fill="#111"/><circle cx="601.20" cy="348.10" r="0.8" fill="#111"/>
<text x="603.60" y="414.60" font-size="7.4" fill="#222" stroke="#222" stroke-width="0.14" text-anchor="end" textLength="51.30" lengthAdjust="spacingAndGlyphs" transform="rotate(-45 603.60 414.60)" >ABE7.10-Y123H</text>
<path d="M610.56,404.40 L610.56,407.80" stroke="#555" stroke-width="0.8"/>
<path d="M610.56,354.40 L610.56,368.30 M609.36,354.40 L611.76,354.40 M609.36,368.30 L611.76,368.30" stroke="#111" stroke-width="0.7"/>
<rect x="607.56" y="359.00" width="6.0" height="8.40" fill="#fdc40f" stroke="#1a1a1a" stroke-width="0.7"/>
<path d="M607.56,365.00 L613.56,365.00" stroke="#111" stroke-width="0.7"/>
<circle cx="611.84" cy="365.77" r="0.8" fill="#111"/>
<circle cx="611.97" cy="361.25" r="0.8" fill="#111"/>
<circle cx="611.14" cy="361.10" r="0.8" fill="#111"/>
<circle cx="610.56" cy="354.40" r="0.8" fill="#111"/><circle cx="610.56" cy="368.30" r="0.8" fill="#111"/>
<text x="612.96" y="414.60" font-size="7.4" fill="#222" stroke="#222" stroke-width="0.14" text-anchor="end" textLength="51.30" lengthAdjust="spacingAndGlyphs" transform="rotate(-45 612.96 414.60)" >ABE7.10-F156I</text>
<path d="M619.92,404.40 L619.92,407.80" stroke="#555" stroke-width="0.8"/>
<path d="M619.92,330.10 L619.92,357.30 M618.72,330.10 L621.12,330.10 M618.72,357.30 L621.12,357.30" stroke="#111" stroke-width="0.7"/>
<rect x="616.92" y="332.40" width="6.0" height="9.80" fill="#1ec6f4" stroke="#1a1a1a" stroke-width="0.7"/>
<path d="M616.92,336.90 L622.92,336.90" stroke="#111" stroke-width="0.7"/>
<circle cx="620.09" cy="336.13" r="0.8" fill="#111"/>
<circle cx="619.74" cy="339.17" r="0.8" fill="#111"/>
<circle cx="619.41" cy="337.61" r="0.8" fill="#111"/>
<circle cx="619.92" cy="330.10" r="0.8" fill="#111"/><circle cx="619.92" cy="357.30" r="0.8" fill="#111"/>
<text x="622.32" y="414.60" font-size="7.4" fill="#222" stroke="#222" stroke-width="0.14" text-anchor="end" textLength="51.30" lengthAdjust="spacingAndGlyphs" transform="rotate(-45 622.32 414.60)" >ABE7.10-L36H</text>
<path d="M629.28,404.40 L629.28,407.80" stroke="#555" stroke-width="0.8"/>
<path d="M629.28,331.00 L629.28,350.80 M628.08,331.00 L630.48,331.00 M628.08,350.80 L630.48,350.80" stroke="#111" stroke-width="0.7"/>
<rect x="626.28" y="341.50" width="6.0" height="9.30" fill="#1ec6f4" stroke="#1a1a1a" stroke-width="0.7"/>
<path d="M626.28,344.50 L632.28,344.50" stroke="#111" stroke-width="0.7"/>
<circle cx="629.69" cy="345.38" r="0.8" fill="#111"/>
<circle cx="629.41" cy="342.80" r="0.8" fill="#111"/>
<circle cx="630.01" cy="350.04" r="0.8" fill="#111"/>
<circle cx="629.28" cy="331.00" r="0.8" fill="#111"/><circle cx="629.28" cy="350.80" r="0.8" fill="#111"/>
<text x="631.68" y="414.60" font-size="7.4" fill="#222" stroke="#222" stroke-width="0.14" text-anchor="end" textLength="51.30" lengthAdjust="spacingAndGlyphs" transform="rotate(-45 631.68 414.60)" >ABE7.10-L51R</text>
<path d="M638.64,404.40 L638.64,407.80" stroke="#555" stroke-width="0.8"/>
<path d="M638.64,320.10 L638.64,337.10 M637.44,320.10 L639.84,320.10 M637.44,337.10 L639.84,337.10" stroke="#111" stroke-width="0.7"/>
<rect x="635.64" y="324.80" width="6.0" height="12.30" fill="#1ec6f4" stroke="#1a1a1a" stroke-width="0.7"/>
<path d="M635.64,334.00 L641.64,334.00" stroke="#111" stroke-width="0.7"/>
<circle cx="638.35" cy="335.55" r="0.8" fill="#111"/>
<circle cx="638.03" cy="328.51" r="0.8" fill="#111"/>
<circle cx="639.51" cy="329.38" r="0.8" fill="#111"/>
<circle cx="638.64" cy="320.10" r="0.8" fill="#111"/><circle cx="638.64" cy="337.10" r="0.8" fill="#111"/>
<text x="641.04" y="414.60" font-size="7.4" fill="#222" stroke="#222" stroke-width="0.14" text-anchor="end" textLength="51.30" lengthAdjust="spacingAndGlyphs" transform="rotate(-45 641.04 414.60)" >ABE7.10-C146S</text>
<path d="M648.00,404.40 L648.00,407.80" stroke="#555" stroke-width="0.8"/>
<path d="M648.00,327.60 L648.00,345.70 M646.80,327.60 L649.20,327.60 M646.80,345.70 L649.20,345.70" stroke="#111" stroke-width="0.7"/>
<rect x="645.00" y="333.40" width="6.0" height="12.30" fill="#1ec6f4" stroke="#1a1a1a" stroke-width="0.7"/>
<path d="M645.00,339.90 L651.00,339.90" stroke="#111" stroke-width="0.7"/>
<circle cx="646.89" cy="333.92" r="0.8" fill="#111"/>
<circle cx="648.99" cy="344.72" r="0.8" fill="#111"/>
<circle cx="649.00" cy="344.44" r="0.8" fill="#111"/>
<circle cx="648.00" cy="327.60" r="0.8" fill="#111"/><circle cx="648.00" cy="345.70" r="0.8" fill="#111"/>
<text x="650.40" y="414.60" font-size="7.4" fill="#222" stroke="#222" stroke-width="0.14" text-anchor="end" textLength="51.30" lengthAdjust="spacingAndGlyphs" transform="rotate(-45 650.40 414.60)" >ABE7.10-N157K</text>
<path d="M657.36,404.40 L657.36,407.80" stroke="#555" stroke-width="0.8"/>
<path d="M657.36,346.90 L657.36,375.90 M656.16,346.90 L658.56,346.90 M656.16,375.90 L658.56,375.90" stroke="#111" stroke-width="0.7"/>
<rect x="654.36" y="346.90" width="6.0" height="10.40" fill="#8436ea" stroke="#1a1a1a" stroke-width="0.7"/>
<path d="M654.36,352.70 L660.36,352.70" stroke="#111" stroke-width="0.7"/>
<circle cx="658.71" cy="353.88" r="0.8" fill="#111"/>
<circle cx="657.22" cy="347.39" r="0.8" fill="#111"/>
<circle cx="656.80" cy="352.21" r="0.8" fill="#111"/>
<circle cx="657.36" cy="346.90" r="0.8" fill="#111"/><circle cx="657.36" cy="375.90" r="0.8" fill="#111"/>
<text x="659.76" y="414.60" font-size="7.4" fill="#222" stroke="#222" stroke-width="0.14" text-anchor="end" textLength="51.30" lengthAdjust="spacingAndGlyphs" transform="rotate(-45 659.76 414.60)" >ABE7.10-A48P</text>
<path d="M666.72,404.40 L666.72,407.80" stroke="#555" stroke-width="0.8"/>
<path d="M666.72,330.10 L666.72,361.30 M665.52,330.10 L667.92,330.10 M665.52,361.30 L667.92,361.30" stroke="#111" stroke-width="0.7"/>
<rect x="663.72" y="344.00" width="6.0" height="11.50" fill="#8436ea" stroke="#1a1a1a" stroke-width="0.7"/>
<path d="M663.72,349.20 L669.72,349.20" stroke="#111" stroke-width="0.7"/>
<circle cx="668.13" cy="354.58" r="0.8" fill="#111"/>
<circle cx="665.71" cy="348.58" r="0.8" fill="#111"/>
<circle cx="666.50" cy="349.16" r="0.8" fill="#111"/>
<circle cx="666.72" cy="330.10" r="0.8" fill="#111"/><circle cx="666.72" cy="361.30" r="0.8" fill="#111"/>
<text x="669.12" y="414.60" font-size="7.4" fill="#222" stroke="#222" stroke-width="0.14" text-anchor="end" textLength="51.30" lengthAdjust="spacingAndGlyphs" transform="rotate(-45 669.12 414.60)" >ABE7.10-R23W</text>
<path d="M676.08,404.40 L676.08,407.80" stroke="#555" stroke-width="0.8"/>
<path d="M676.08,332.40 L676.08,361.30 M674.88,332.40 L677.28,332.40 M674.88,361.30 L677.28,361.30" stroke="#111" stroke-width="0.7"/>
<rect x="673.08" y="338.30" width="6.0" height="19.00" fill="#8436ea" stroke="#1a1a1a" stroke-width="0.7"/>
<path d="M673.08,348.00 L679.08,348.00" stroke="#111" stroke-width="0.7"/>
<circle cx="676.52" cy="339.36" r="0.8" fill="#111"/>
<circle cx="675.01" cy="348.40" r="0.8" fill="#111"/>
<circle cx="675.13" cy="342.71" r="0.8" fill="#111"/>
<circle cx="676.08" cy="332.40" r="0.8" fill="#111"/><circle cx="676.08" cy="361.30" r="0.8" fill="#111"/>
<text x="678.48" y="414.60" font-size="7.4" fill="#222" stroke="#222" stroke-width="0.14" text-anchor="end" textLength="51.30" lengthAdjust="spacingAndGlyphs" transform="rotate(-45 678.48 414.60)" >ABE7.10-P152R</text>
<text x="501.80" y="281.60" font-size="13" fill="#000" font-weight="bold" stroke="#000" stroke-width="0.5">e</text>
<text x="616.00" y="286.80" font-size="8.3" fill="#231f20" stroke="#231f20" stroke-width="0.16" text-anchor="middle" textLength="120.10" lengthAdjust="spacingAndGlyphs" >Cam<tspan font-size="5.5" dy="-3.6">R</tspan><tspan dy="3.6"> Q122* bacterial reporter</tspan></text>
<text x="616.00" y="297.80" font-size="8.3" fill="#231f20" stroke="#231f20" stroke-width="0.16" text-anchor="middle" textLength="97.00" lengthAdjust="spacingAndGlyphs" >(T<tspan fill="#f01e28" stroke="#f01e28">A</tspan>C motif) fold-change</text>
<text x="616.00" y="307.40" font-size="8.3" fill="#231f20" stroke="#231f20" stroke-width="0.16" text-anchor="middle" textLength="57.20" lengthAdjust="spacingAndGlyphs" >in ABE activity</text>
<text x="509.20" y="359.20" font-size="8.5" fill="#231f20" stroke="#231f20" stroke-width="0.16" text-anchor="middle" textLength="108.70" lengthAdjust="spacingAndGlyphs" transform="rotate(-90 509.20 359.20)" >Fold change in survival rate</text>
<text x="520.10" y="359.20" font-size="8.5" fill="#231f20" stroke="#231f20" stroke-width="0.16" text-anchor="middle" textLength="94.20" lengthAdjust="spacingAndGlyphs" transform="rotate(-90 520.10 359.20)" >with respect to ABE7.10</text>
</svg></body></html>
